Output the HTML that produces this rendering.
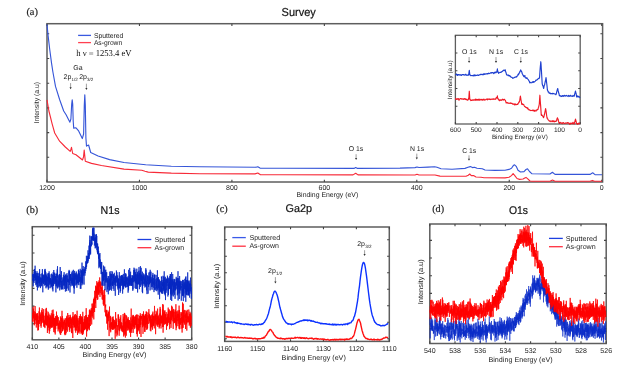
<!DOCTYPE html>
<html><head><meta charset="utf-8"><title>XPS</title>
<style>
html,body{margin:0;padding:0;background:#fff;width:623px;height:366px;overflow:hidden}
svg{display:block;will-change:transform}
text{-webkit-font-smoothing:antialiased;text-rendering:geometricPrecision}
.t{will-change:transform}
</style></head><body>
<svg width="623" height="366" viewBox="0 0 623 366">
<rect width="623" height="366" fill="#fff"/>
<text x="26.40" y="14.80" font-size="10.4" font-family='"Liberation Serif",serif' fill="#222" stroke="#222" stroke-width="0.2">(a)</text>
<text x="281.60" y="16.00" font-size="11.5" font-family='"Liberation Sans",sans-serif' fill="#111" textLength="34.2" lengthAdjust="spacingAndGlyphs" stroke="#111" stroke-width="0.2">Survey</text>
<rect x="47.00" y="23.70" width="555.60" height="158.30" fill="none" stroke="#5e5e5e" stroke-width="1.5"/>
<path d="M47.00,182.00v-2.2M47.00,23.70v2.2M139.45,182.00v-2.2M139.45,23.70v2.2M231.90,182.00v-2.2M231.90,23.70v2.2M324.35,182.00v-2.2M324.35,23.70v2.2M416.80,182.00v-2.2M416.80,23.70v2.2M509.25,182.00v-2.2M509.25,23.70v2.2M601.70,182.00v-2.2M601.70,23.70v2.2M47.00,33.80h2.2M602.60,33.80h-2.2M47.00,58.50h2.2M602.60,58.50h-2.2M47.00,83.20h2.2M602.60,83.20h-2.2M47.00,107.90h2.2M602.60,107.90h-2.2M47.00,132.60h2.2M602.60,132.60h-2.2M47.00,157.30h2.2M602.60,157.30h-2.2" stroke="#444" stroke-width="1.1" fill="none"/>
<polyline points="47.00,99.80 48.90,111.00 50.30,116.50 52.20,124.10 54.70,133.00 59.60,141.20 65.30,147.00 70.20,151.30 70.90,149.50 71.50,147.30 72.10,150.50 72.70,153.50 76.00,154.70 82.50,160.00 83.50,157.00 84.20,150.00 84.80,156.00 85.30,161.20 91.50,163.40 101.40,165.50 124.00,169.10 141.80,170.20 145.00,171.20 148.20,172.10 171.30,173.10 200.00,173.70 255.00,173.90 257.80,173.00 260.50,174.70 280.00,174.80 353.00,174.90 355.70,173.20 358.00,174.90 415.00,175.00 417.00,174.20 419.00,175.00 435.00,175.00 440.00,176.10 448.00,176.30 466.00,176.30 468.30,175.20 469.70,174.00 471.30,175.60 473.50,175.60 476.00,177.00 481.00,177.30 484.00,177.70 505.00,177.90 509.00,177.20 511.50,175.60 513.10,173.50 515.00,175.80 517.00,178.50 519.50,179.40 523.00,179.00 524.80,178.00 526.00,177.40 527.50,178.60 530.00,181.00 532.00,181.20 550.00,181.30 552.50,180.10 555.00,181.30 590.00,181.30 592.40,180.40 594.50,181.30 602.00,181.30" fill="none" stroke="#f72a38" stroke-width="1.12" stroke-linejoin="round"/>
<polyline points="47.00,24.50 48.10,35.60 49.70,49.30 51.50,62.90 52.90,72.00 55.50,86.40 59.60,99.50 63.70,111.00 66.10,114.80 68.50,119.50 69.90,122.20 70.90,119.00 71.70,104.00 72.20,99.80 72.70,104.00 73.20,121.00 73.70,128.10 76.00,127.80 78.40,130.60 82.30,138.60 83.60,134.00 84.30,105.00 84.80,94.80 85.30,105.00 85.90,138.00 86.50,146.10 88.60,145.00 90.70,152.50 98.10,156.00 109.60,159.60 124.00,162.50 145.70,164.80 171.30,166.30 200.00,166.70 256.00,167.20 257.80,166.80 260.00,168.10 280.00,168.20 354.00,168.40 355.70,167.50 357.50,168.40 400.00,168.10 415.00,167.60 417.00,167.00 419.00,167.50 428.00,167.10 434.70,166.70 437.00,167.30 441.00,168.70 452.00,169.30 465.00,168.40 468.00,167.30 470.30,166.60 472.50,167.60 474.50,167.20 477.00,168.30 482.30,168.70 485.00,170.00 495.00,170.40 505.00,170.20 509.00,169.40 511.50,168.30 513.30,165.60 514.60,164.80 516.20,166.30 518.00,170.30 520.50,172.00 524.00,171.60 526.00,169.50 527.50,168.80 529.50,171.50 532.00,173.80 550.00,174.00 552.40,172.30 555.00,174.40 590.00,174.40 592.70,172.80 595.00,174.60 602.00,174.80" fill="none" stroke="#3555d8" stroke-width="1.12" stroke-linejoin="round"/>
<text x="47.00" y="190.00" font-size="7" font-family='"Liberation Sans",sans-serif' fill="#222" text-anchor="middle">1200</text>
<text x="139.45" y="190.00" font-size="7" font-family='"Liberation Sans",sans-serif' fill="#222" text-anchor="middle">1000</text>
<text x="231.90" y="190.00" font-size="7" font-family='"Liberation Sans",sans-serif' fill="#222" text-anchor="middle">800</text>
<text x="324.35" y="190.00" font-size="7" font-family='"Liberation Sans",sans-serif' fill="#222" text-anchor="middle">600</text>
<text x="416.80" y="190.00" font-size="7" font-family='"Liberation Sans",sans-serif' fill="#222" text-anchor="middle">400</text>
<text x="509.25" y="190.00" font-size="7" font-family='"Liberation Sans",sans-serif' fill="#222" text-anchor="middle">200</text>
<text x="601.70" y="190.00" font-size="7" font-family='"Liberation Sans",sans-serif' fill="#222" text-anchor="middle">0</text>
<text x="296.50" y="197.00" font-size="7" font-family='"Liberation Sans",sans-serif' fill="#222" textLength="61.7" lengthAdjust="spacingAndGlyphs">Binding Energy (eV)</text>
<text x="0.00" y="0.00" font-size="7" font-family='"Liberation Sans",sans-serif' fill="#222" text-anchor="middle" textLength="41.6" lengthAdjust="spacingAndGlyphs" transform="translate(38.9,102.7) rotate(-90)">Intensity (a.u)</text>
<path d="M78.1,35.4H91" stroke="#3a5ae0" stroke-width="1.3"/>
<path d="M78.1,42.6H91" stroke="#ff4050" stroke-width="1.3"/>
<text x="93.90" y="37.60" font-size="7" font-family='"Liberation Sans",sans-serif' fill="#222" textLength="29.5" lengthAdjust="spacingAndGlyphs">Sputtered</text>
<text x="93.90" y="45.20" font-size="7" font-family='"Liberation Sans",sans-serif' fill="#222" textLength="28.3" lengthAdjust="spacingAndGlyphs">As-grown</text>
<text x="76.20" y="56.30" font-size="9" font-family='"Liberation Serif",serif' fill="#111" textLength="55.4" lengthAdjust="spacingAndGlyphs">h ν = 1253.4 eV</text>
<text x="73.20" y="70.40" font-size="7" font-family='"Liberation Sans",sans-serif' fill="#222">Ga</text>
<text x="63.60" y="79.00" font-size="7" font-family='"Liberation Sans",sans-serif' fill="#222">2p</text>
<text x="71.50" y="81.00" font-size="4.5" font-family='"Liberation Sans",sans-serif' fill="#222">1/2</text>
<text x="79.20" y="79.00" font-size="7" font-family='"Liberation Sans",sans-serif' fill="#222">2p</text>
<text x="87.10" y="81.00" font-size="4.5" font-family='"Liberation Sans",sans-serif' fill="#222">3/2</text>
<path d="M70.60,83.10V88.10" stroke="#777" stroke-width="0.7"/><path d="M69.50,87.30L71.70,87.30L70.60,89.30Z" fill="#333"/>
<path d="M86.40,83.70V88.70" stroke="#777" stroke-width="0.7"/><path d="M85.30,87.90L87.50,87.90L86.40,89.90Z" fill="#333"/>
<text x="348.80" y="150.90" font-size="7" font-family='"Liberation Sans",sans-serif' fill="#222" textLength="14.5" lengthAdjust="spacingAndGlyphs">O 1s</text>
<path d="M356.10,154.20V158.80" stroke="#777" stroke-width="0.7"/><path d="M355.00,158.00L357.20,158.00L356.10,160.00Z" fill="#333"/>
<text x="409.90" y="150.60" font-size="7" font-family='"Liberation Sans",sans-serif' fill="#222" textLength="14.2" lengthAdjust="spacingAndGlyphs">N 1s</text>
<path d="M416.80,153.60V158.20" stroke="#777" stroke-width="0.7"/><path d="M415.70,157.40L417.90,157.40L416.80,159.40Z" fill="#333"/>
<text x="462.20" y="152.60" font-size="7" font-family='"Liberation Sans",sans-serif' fill="#222" textLength="14.0" lengthAdjust="spacingAndGlyphs">C 1s</text>
<path d="M469.00,155.30V159.50" stroke="#777" stroke-width="0.7"/><path d="M467.90,158.70L470.10,158.70L469.00,160.70Z" fill="#333"/>
<rect x="455.40" y="35.30" width="124.80" height="88.70" fill="none" stroke="#5e5e5e" stroke-width="1.3"/>
<path d="M455.40,124.00v-2.0M455.40,35.30v2.0M476.20,124.00v-2.0M476.20,35.30v2.0M497.00,124.00v-2.0M497.00,35.30v2.0M517.80,124.00v-2.0M517.80,35.30v2.0M538.60,124.00v-2.0M538.60,35.30v2.0M559.40,124.00v-2.0M559.40,35.30v2.0M580.20,124.00v-2.0M580.20,35.30v2.0M455.40,53.04h2.0M580.20,53.04h-2.0M455.40,70.78h2.0M580.20,70.78h-2.0M455.40,88.52h2.0M580.20,88.52h-2.0M455.40,106.26h2.0M580.20,106.26h-2.0" stroke="#444" stroke-width="1.1" fill="none"/>
<polyline points="455.40,99.40 455.80,98.47 456.20,99.48 456.60,99.10 457.00,99.10 457.40,99.15 457.80,98.48 458.20,99.08 458.60,98.82 459.00,100.25 459.40,99.13 459.80,98.89 460.00,99.00 460.20,98.75 460.60,98.59 461.00,98.80 461.40,99.08 461.80,98.81 462.20,99.20 462.60,98.77 463.00,98.82 463.40,99.33 463.80,98.96 464.20,98.57 464.60,98.65 464.90,98.70 465.00,99.43 465.40,98.86 465.80,99.06 466.20,99.70 466.60,99.24 467.00,99.65 467.40,100.26 467.70,100.10 467.80,100.03 468.20,99.83 468.60,98.21 468.80,99.00 469.00,95.54 469.30,91.20 469.40,92.86 469.80,99.25 469.80,99.00 470.20,99.36 470.40,100.10 470.60,100.08 471.00,100.58 471.40,100.33 471.80,100.13 472.20,100.44 472.60,99.97 473.00,99.70 473.40,100.22 473.80,100.21 474.20,99.92 474.60,99.71 475.00,100.05 475.40,99.09 475.80,100.19 476.20,100.11 476.60,99.36 477.00,99.94 477.40,99.57 477.80,100.16 478.20,99.17 478.60,99.55 479.00,100.11 479.40,100.26 479.80,99.09 480.20,99.66 480.60,99.93 481.00,99.60 481.30,99.80 481.40,99.38 481.80,99.89 482.20,99.37 482.60,100.20 483.00,99.68 483.40,99.52 483.80,99.03 484.20,100.19 484.60,99.84 485.00,99.81 485.40,99.92 485.80,99.61 486.20,99.24 486.60,99.15 487.00,99.13 487.40,99.86 487.80,98.84 488.20,99.12 488.60,99.18 489.00,99.35 489.40,99.44 489.80,98.78 490.00,99.20 490.20,99.19 490.60,99.60 491.00,99.42 491.40,99.22 491.80,99.02 492.20,99.21 492.60,99.01 493.00,99.37 493.40,98.79 493.80,99.09 494.20,98.99 494.60,99.21 495.00,99.08 495.00,99.00 495.40,99.31 495.80,99.10 496.20,97.65 496.60,98.04 496.90,98.00 497.00,97.93 497.40,95.90 497.40,96.70 497.80,98.61 498.00,99.00 498.20,98.88 498.60,99.38 499.00,100.12 499.00,100.10 499.40,100.77 499.80,99.93 500.20,100.22 500.60,99.95 501.00,100.46 501.40,100.05 501.80,100.22 502.20,99.32 502.60,99.57 503.00,99.31 503.40,100.07 503.80,99.72 504.20,99.33 504.50,99.40 504.60,99.73 505.00,99.96 505.40,100.53 505.80,101.67 506.20,103.01 506.60,102.71 506.60,102.80 507.00,102.45 507.40,102.45 507.80,103.16 508.20,103.33 508.60,103.09 509.00,103.27 509.40,103.25 509.80,103.32 510.20,102.79 510.60,103.22 511.00,103.48 511.40,103.23 511.40,103.50 511.80,103.31 512.20,103.58 512.60,104.09 513.00,103.75 513.40,103.93 513.80,104.37 514.20,104.41 514.60,104.87 515.00,103.65 515.40,104.78 515.50,104.50 515.80,104.46 516.20,104.60 516.60,104.57 517.00,104.44 517.40,104.02 517.80,104.42 518.00,103.80 518.20,103.38 518.60,102.96 519.00,101.74 519.40,101.94 519.50,101.00 519.80,100.13 520.20,97.18 520.40,96.10 520.60,97.38 521.00,100.03 521.20,101.00 521.40,102.25 521.70,103.80 521.80,104.41 522.20,103.80 522.60,104.58 523.00,104.17 523.00,104.40 523.40,104.57 523.80,104.82 524.20,105.70 524.60,106.42 525.00,106.54 525.40,107.11 525.50,107.00 525.80,107.31 526.20,107.58 526.60,107.71 527.00,107.53 527.40,108.65 527.80,108.06 528.20,109.20 528.60,109.26 529.00,109.95 529.40,109.82 529.80,109.85 530.20,110.55 530.30,110.50 530.60,110.46 531.00,110.56 531.40,110.53 531.80,110.54 532.20,110.34 532.60,110.60 533.00,109.94 533.40,110.66 533.80,110.33 534.20,111.17 534.60,111.25 535.00,110.15 535.40,110.91 535.80,110.84 536.00,110.90 536.20,110.95 536.60,110.32 537.00,109.58 537.40,109.83 537.80,109.59 538.00,109.50 538.20,108.22 538.60,107.18 539.00,105.53 539.30,104.00 539.40,102.30 539.80,96.64 539.90,95.20 540.20,100.21 540.50,104.00 540.60,105.12 541.00,111.08 541.20,114.30 541.40,115.34 541.80,114.93 542.20,115.50 542.60,116.10 543.00,116.37 543.40,117.65 543.70,117.20 543.80,117.06 544.20,115.26 544.60,113.82 545.00,111.59 545.00,112.00 545.40,109.69 545.60,108.60 545.80,109.53 546.20,112.12 546.30,113.00 546.60,115.26 547.00,117.73 547.10,118.10 547.40,118.73 547.80,118.99 548.20,119.78 548.60,120.20 549.00,120.46 549.40,121.25 549.40,121.00 549.80,121.11 550.20,120.92 550.60,121.32 551.00,121.76 551.40,121.05 551.80,121.11 552.20,121.12 552.60,121.62 553.00,120.57 553.40,121.37 553.80,121.68 554.20,121.00 554.60,121.83 555.00,121.52 555.40,121.17 555.80,121.45 556.10,121.40 556.20,120.94 556.60,120.71 557.00,118.69 557.00,119.00 557.40,118.01 557.50,117.80 557.80,118.76 558.20,119.22 558.20,120.00 558.60,121.52 559.00,122.50 559.00,122.90 559.40,123.04 559.80,122.70 560.20,122.35 560.60,122.72 561.00,123.28 561.40,122.83 561.80,123.34 562.20,123.56 562.60,123.05 563.00,122.66 563.40,122.62 563.80,123.08 564.20,123.41 564.60,123.21 565.00,123.33 565.40,123.00 565.80,123.27 566.20,123.02 566.60,123.08 567.00,122.76 567.40,122.68 567.80,123.08 568.20,122.87 568.60,122.94 569.00,123.53 569.40,123.27 569.80,124.34 570.20,123.66 570.60,123.13 571.00,123.64 571.40,123.51 571.80,123.16 572.20,123.80 572.60,123.16 573.00,122.38 573.40,123.74 573.80,123.26 574.20,124.02 574.30,123.50 574.60,122.02 575.00,121.54 575.00,121.00 575.40,119.55 575.50,119.10 575.80,120.28 576.00,121.00 576.20,121.87 576.60,123.79 576.60,123.50 577.00,123.71 577.40,123.70 577.80,124.32 578.20,123.38 578.60,123.18 579.00,123.76 579.40,123.36 579.80,123.60 580.00,123.50" fill="none" stroke="#f01a25" stroke-width="1.15" stroke-linejoin="round"/>
<polyline points="455.40,74.80 455.80,74.59 456.20,74.80 456.60,73.96 457.00,74.56 457.40,75.42 457.80,74.67 458.20,74.68 458.60,74.51 459.00,75.16 459.40,75.04 459.80,74.58 460.00,75.00 460.20,75.07 460.60,75.20 461.00,74.68 461.40,75.47 461.80,74.96 462.20,74.74 462.60,74.56 463.00,74.61 463.40,74.96 463.80,74.53 464.00,74.60 464.20,74.84 464.60,75.17 465.00,75.05 465.40,74.80 465.80,74.22 466.20,75.06 466.60,75.30 467.00,75.14 467.40,75.35 467.70,75.20 467.80,75.00 468.20,74.52 468.60,75.05 468.70,74.50 469.00,72.23 469.30,70.30 469.40,71.03 469.80,74.72 469.90,75.00 470.20,74.78 470.60,75.58 471.00,75.62 471.40,75.51 471.80,75.48 472.20,75.65 472.60,75.48 473.00,75.61 473.40,75.11 473.80,75.95 474.20,75.55 474.50,75.50 474.60,74.77 475.00,75.68 475.40,75.73 475.80,75.21 476.20,75.44 476.60,75.49 477.00,75.38 477.40,74.94 477.80,75.03 478.20,75.39 478.60,75.43 479.00,74.96 479.40,74.90 479.80,74.90 480.00,74.80 480.20,74.41 480.60,74.27 481.00,74.74 481.40,74.27 481.80,74.41 482.20,74.61 482.60,74.71 483.00,74.12 483.40,74.74 483.80,73.80 484.00,74.40 484.20,73.80 484.60,73.82 485.00,74.40 485.40,73.94 485.80,73.72 486.20,73.75 486.60,73.98 487.00,73.71 487.40,73.62 487.80,73.91 488.00,73.50 488.20,73.29 488.60,73.18 489.00,73.68 489.40,73.52 489.80,73.53 490.20,72.98 490.60,72.84 491.00,73.10 491.40,72.57 491.80,72.91 492.20,72.78 492.30,72.50 492.60,72.50 493.00,72.54 493.40,73.23 493.80,73.57 494.20,72.68 494.60,72.76 495.00,72.00 495.00,72.80 495.40,72.62 495.80,72.07 496.20,72.54 496.60,71.54 496.80,72.00 497.00,71.15 497.40,68.86 497.40,69.30 497.80,71.50 498.10,72.50 498.20,72.15 498.60,73.41 498.60,73.20 499.00,72.58 499.40,72.70 499.80,72.56 500.20,72.35 500.60,72.49 501.00,72.13 501.00,72.00 501.40,72.17 501.80,71.62 502.20,71.45 502.60,71.23 503.00,70.70 503.20,70.30 503.40,70.55 503.80,70.18 504.20,70.62 504.60,69.98 505.00,70.03 505.20,69.80 505.40,71.10 505.80,72.00 506.20,73.28 506.60,74.91 506.60,74.80 507.00,74.94 507.40,74.96 507.80,75.14 508.20,75.79 508.60,75.06 508.60,75.20 509.00,75.42 509.40,76.02 509.80,75.66 510.20,76.13 510.60,76.65 511.00,77.15 511.40,77.23 511.80,77.37 512.20,77.53 512.60,78.31 512.70,78.20 513.00,78.20 513.40,77.99 513.80,77.93 514.20,77.28 514.60,77.35 515.00,77.21 515.40,77.25 515.80,76.98 516.20,76.41 516.60,77.07 516.80,76.60 517.00,76.24 517.40,75.92 517.80,75.33 517.90,75.10 518.20,74.09 518.60,74.52 519.00,73.14 519.40,73.10 519.80,72.03 519.80,72.00 520.20,71.02 520.60,70.45 520.70,69.90 521.00,70.48 521.40,71.40 521.80,71.92 522.00,73.00 522.20,73.58 522.60,74.12 523.00,75.28 523.40,75.29 523.60,76.00 523.80,76.72 524.20,76.69 524.60,75.79 525.00,75.63 525.00,76.80 525.40,77.72 525.80,77.73 526.10,78.30 526.20,78.46 526.60,77.71 527.00,77.87 527.00,77.80 527.40,78.56 527.80,79.13 528.20,79.37 528.60,80.36 529.00,80.62 529.40,81.82 529.80,82.86 530.20,82.29 530.30,82.70 530.60,82.48 531.00,82.67 531.40,82.81 531.80,82.72 532.20,81.98 532.60,81.88 533.00,82.50 533.40,81.58 533.80,82.25 534.10,81.80 534.20,81.99 534.60,81.68 535.00,81.40 535.40,81.12 535.80,80.19 536.20,80.34 536.60,79.95 537.00,79.75 537.40,79.78 537.80,78.95 538.00,78.90 538.20,78.53 538.60,78.43 539.00,78.56 539.40,77.77 539.50,78.00 539.80,73.82 540.20,67.92 540.20,68.00 540.60,63.89 540.80,61.70 541.00,63.85 541.40,70.42 541.40,70.00 541.80,76.97 542.20,83.87 542.20,83.70 542.60,85.41 543.00,85.95 543.40,87.53 543.70,88.50 543.80,88.01 544.20,85.51 544.60,84.86 545.00,82.64 545.20,82.00 545.40,80.85 545.80,79.00 546.00,77.60 546.20,78.92 546.60,82.59 546.80,84.00 547.00,85.72 547.40,89.97 547.50,90.40 547.80,90.67 548.20,92.00 548.60,91.79 549.00,93.04 549.40,93.13 549.40,93.30 549.80,92.92 550.20,93.11 550.60,93.83 551.00,93.58 551.40,93.58 551.80,93.47 552.20,93.83 552.60,93.24 553.00,93.39 553.40,93.78 553.80,93.60 554.20,93.70 554.60,93.97 555.00,94.00 555.40,94.03 555.80,94.74 556.10,94.20 556.20,94.27 556.60,92.41 557.00,90.82 557.00,91.00 557.40,89.45 557.70,88.50 557.80,88.73 558.20,90.95 558.50,92.00 558.60,92.74 559.00,93.70 559.40,95.77 559.40,95.60 559.80,95.90 560.20,95.59 560.60,95.94 561.00,96.55 561.40,95.99 561.80,96.50 562.20,95.76 562.60,95.59 563.00,96.19 563.40,96.34 563.80,95.55 564.20,95.79 564.60,95.27 565.00,95.72 565.40,96.11 565.80,95.78 566.20,95.63 566.60,95.35 567.00,95.98 567.40,96.15 567.80,96.09 568.20,95.98 568.60,95.46 569.00,96.54 569.40,95.92 569.80,95.90 570.20,96.22 570.60,95.22 571.00,95.97 571.40,95.95 571.80,96.15 572.20,96.50 572.60,96.21 573.00,95.42 573.40,95.95 573.80,96.16 574.20,96.15 574.30,96.10 574.60,94.19 575.00,93.19 575.00,93.00 575.40,91.39 575.50,91.00 575.80,92.82 576.00,93.00 576.20,93.91 576.60,96.83 576.60,96.10 577.00,96.32 577.40,95.97 577.80,97.00 578.20,96.21 578.60,96.89 579.00,96.99 579.40,96.72 579.80,97.54 580.00,97.30" fill="none" stroke="#1f40d0" stroke-width="1.15" stroke-linejoin="round"/>
<text x="455.40" y="132.40" font-size="6.6" font-family='"Liberation Sans",sans-serif' fill="#222" text-anchor="middle">600</text>
<text x="476.20" y="132.40" font-size="6.6" font-family='"Liberation Sans",sans-serif' fill="#222" text-anchor="middle">500</text>
<text x="497.00" y="132.40" font-size="6.6" font-family='"Liberation Sans",sans-serif' fill="#222" text-anchor="middle">400</text>
<text x="517.80" y="132.40" font-size="6.6" font-family='"Liberation Sans",sans-serif' fill="#222" text-anchor="middle">300</text>
<text x="538.60" y="132.40" font-size="6.6" font-family='"Liberation Sans",sans-serif' fill="#222" text-anchor="middle">200</text>
<text x="559.40" y="132.40" font-size="6.6" font-family='"Liberation Sans",sans-serif' fill="#222" text-anchor="middle">100</text>
<text x="580.20" y="132.40" font-size="6.6" font-family='"Liberation Sans",sans-serif' fill="#222" text-anchor="middle">0</text>
<text x="491.90" y="138.60" font-size="6.3" font-family='"Liberation Sans",sans-serif' fill="#222" textLength="55.9" lengthAdjust="spacingAndGlyphs">Binding Energy (eV)</text>
<text x="0.00" y="0.00" font-size="6.3" font-family='"Liberation Sans",sans-serif' fill="#222" text-anchor="middle" textLength="38.8" lengthAdjust="spacingAndGlyphs" transform="translate(451.9,79.8) rotate(-90)">Intensity (a.u)</text>
<text x="462.10" y="53.60" font-size="6.9" font-family='"Liberation Sans",sans-serif' fill="#222" textLength="14.5" lengthAdjust="spacingAndGlyphs">O 1s</text>
<path d="M469.10,57.00V61.80" stroke="#777" stroke-width="0.7"/><path d="M468.00,61.00L470.20,61.00L469.10,63.00Z" fill="#333"/>
<text x="488.90" y="53.60" font-size="6.9" font-family='"Liberation Sans",sans-serif' fill="#222" textLength="14.2" lengthAdjust="spacingAndGlyphs">N 1s</text>
<path d="M496.00,57.00V61.80" stroke="#777" stroke-width="0.7"/><path d="M494.90,61.00L497.10,61.00L496.00,63.00Z" fill="#333"/>
<text x="513.90" y="53.60" font-size="6.9" font-family='"Liberation Sans",sans-serif' fill="#222" textLength="14.0" lengthAdjust="spacingAndGlyphs">C 1s</text>
<path d="M520.80,57.00V61.80" stroke="#777" stroke-width="0.7"/><path d="M519.70,61.00L521.90,61.00L520.80,63.00Z" fill="#333"/>
<text x="26.30" y="212.60" font-size="10.2" font-family='"Liberation Serif",serif' fill="#222" stroke="#222" stroke-width="0.2">(b)</text>
<text x="100.60" y="214.10" font-size="11.2" font-family='"Liberation Sans",sans-serif' fill="#111" textLength="18.9" lengthAdjust="spacingAndGlyphs" stroke="#111" stroke-width="0.2">N1s</text>
<rect x="32.30" y="226.70" width="159.40" height="113.10" fill="none" stroke="#5e5e5e" stroke-width="1.5"/>
<path d="M32.30,339.80v-2.2M32.30,226.70v2.2M58.87,339.80v-2.2M58.87,226.70v2.2M85.43,339.80v-2.2M85.43,226.70v2.2M112.00,339.80v-2.2M112.00,226.70v2.2M138.57,339.80v-2.2M138.57,226.70v2.2M165.13,339.80v-2.2M165.13,226.70v2.2M191.70,339.80v-2.2M191.70,226.70v2.2M32.30,235.30h2.2M191.70,235.30h-2.2M32.30,253.00h2.2M191.70,253.00h-2.2M32.30,270.70h2.2M191.70,270.70h-2.2M32.30,288.40h2.2M191.70,288.40h-2.2M32.30,306.10h2.2M191.70,306.10h-2.2M32.30,323.80h2.2M191.70,323.80h-2.2" stroke="#444" stroke-width="1.1" fill="none"/>
<polyline points="32.5,315.6 32.6,321.7 32.7,319.9 32.8,312.9 32.9,318.1 33.0,316.8 33.1,306.8 33.2,316.8 33.3,316.2 33.4,315.4 33.5,308.7 33.6,315.9 33.7,317.7 33.8,318.5 33.9,311.6 34.0,321.5 34.1,311.2 34.2,316.7 34.3,325.3 34.4,314.2 34.5,315.2 34.6,324.0 34.7,316.0 34.8,316.5 34.9,319.4 35.0,324.0 35.1,306.0 35.2,313.6 35.3,312.6 35.4,312.2 35.5,313.5 35.6,313.6 35.7,320.0 35.8,313.4 35.9,319.0 36.0,320.6 36.1,314.4 36.2,319.2 36.3,327.5 36.4,320.3 36.5,315.0 36.6,318.2 36.7,313.5 36.8,320.1 36.9,323.4 37.0,314.1 37.1,317.5 37.2,324.8 37.3,315.9 37.4,319.7 37.5,313.1 37.6,314.2 37.7,315.9 37.8,330.5 37.9,316.6 38.0,316.0 38.1,315.8 38.2,318.0 38.3,322.4 38.4,319.9 38.5,330.1 38.6,320.1 38.7,326.8 38.8,320.5 38.9,322.3 39.0,311.3 39.1,318.4 39.2,318.7 39.3,317.8 39.4,307.5 39.5,323.9 39.6,317.1 39.7,316.8 39.8,317.9 39.9,318.0 40.0,321.5 40.1,312.4 40.2,314.3 40.3,320.9 40.4,320.2 40.5,317.4 40.6,316.3 40.7,314.9 40.8,319.1 40.9,325.9 41.0,313.8 41.1,327.7 41.2,324.1 41.3,317.1 41.4,323.8 41.5,311.7 41.6,310.3 41.7,312.7 41.8,317.5 41.9,317.9 42.0,316.9 42.1,320.3 42.2,308.2 42.3,322.5 42.4,312.1 42.5,316.3 42.6,317.6 42.7,313.6 42.8,312.5 42.9,314.5 43.0,319.9 43.1,323.2 43.2,323.0 43.3,314.6 43.4,315.8 43.5,315.1 43.6,322.5 43.7,309.1 43.8,326.8 43.9,317.5 44.0,315.9 44.1,322.0 44.2,325.8 44.3,322.1 44.4,325.9 44.5,321.0 44.6,326.9 44.7,327.0 44.8,319.8 44.9,328.1 45.0,321.3 45.1,320.9 45.2,315.5 45.3,318.9 45.4,324.7 45.5,313.4 45.6,324.0 45.7,322.4 45.8,322.1 45.9,308.7 46.0,320.1 46.1,324.1 46.2,316.5 46.3,321.2 46.4,307.9 46.5,324.3 46.6,317.2 46.7,325.5 46.8,310.8 46.9,324.5 47.0,319.6 47.1,325.2 47.2,315.9 47.3,317.6 47.4,333.0 47.5,316.5 47.6,317.2 47.7,319.5 47.8,315.5 47.9,327.5 48.0,330.4 48.1,317.3 48.2,311.8 48.3,327.5 48.4,327.1 48.5,325.6 48.6,327.4 48.7,316.5 48.8,320.3 48.9,313.8 49.0,313.6 49.1,326.6 49.2,317.7 49.3,333.7 49.4,321.8 49.5,317.9 49.6,325.7 49.7,331.2 49.8,324.1 49.9,314.9 50.0,323.5 50.1,328.9 50.2,318.9 50.3,317.4 50.4,327.1 50.5,322.3 50.6,315.7 50.7,319.6 50.8,317.6 50.9,323.3 51.0,322.3 51.1,327.9 51.2,325.5 51.3,313.3 51.4,323.9 51.5,326.6 51.6,324.2 51.7,327.4 51.8,318.9 51.9,316.7 52.0,326.9 52.1,316.1 52.2,310.2 52.3,327.5 52.4,318.0 52.5,320.3 52.6,314.4 52.7,314.8 52.8,315.8 52.9,320.1 53.0,324.0 53.1,309.6 53.2,326.1 53.3,315.7 53.4,316.4 53.5,325.8 53.6,321.7 53.7,313.9 53.8,332.1 53.9,317.6 54.0,323.6 54.1,323.3 54.2,329.9 54.3,319.8 54.4,327.7 54.5,318.3 54.6,328.4 54.7,318.2 54.8,320.4 54.9,332.6 55.0,324.1 55.1,323.0 55.2,334.5 55.3,324.4 55.4,318.1 55.5,326.5 55.6,316.1 55.7,328.6 55.8,329.1 55.9,319.5 56.0,319.2 56.1,323.6 56.2,322.7 56.3,317.4 56.4,325.7 56.5,311.6 56.6,320.4 56.7,320.5 56.8,321.2 56.9,324.4 57.0,316.1 57.1,326.0 57.2,321.8 57.3,319.3 57.4,315.5 57.5,316.5 57.6,324.8 57.7,317.7 57.8,323.3 57.9,328.7 58.0,328.5 58.1,331.4 58.2,321.4 58.3,317.1 58.4,328.5 58.5,324.7 58.6,329.1 58.7,323.1 58.8,329.5 58.9,327.7 59.0,327.0 59.1,325.9 59.2,325.3 59.3,324.4 59.4,324.4 59.5,328.6 59.6,320.5 59.7,332.6 59.8,322.7 59.9,328.6 60.0,322.8 60.1,322.0 60.2,334.3 60.3,321.6 60.4,316.4 60.5,319.4 60.6,321.6 60.7,334.9 60.8,324.4 60.9,328.4 61.0,317.9 61.1,325.2 61.2,326.9 61.3,333.0 61.4,319.6 61.5,326.6 61.6,324.9 61.7,317.8 61.8,323.2 61.9,321.9 62.0,310.8 62.1,326.6 62.2,326.2 62.3,321.0 62.4,316.1 62.5,331.3 62.6,324.8 62.7,328.8 62.8,330.9 62.9,320.5 63.0,327.7 63.1,322.0 63.2,323.0 63.3,322.9 63.4,323.3 63.5,329.4 63.6,324.0 63.7,322.5 63.8,321.8 63.9,325.2 64.0,318.5 64.1,320.6 64.2,323.1 64.3,320.3 64.4,322.7 64.5,320.0 64.6,334.2 64.7,330.5 64.8,325.8 64.9,323.1 65.0,335.2 65.1,325.1 65.2,322.9 65.3,325.0 65.4,325.0 65.5,331.0 65.6,323.3 65.7,334.7 65.8,318.6 65.9,327.1 66.0,318.0 66.1,333.2 66.2,321.6 66.3,323.0 66.4,328.4 66.5,330.1 66.6,317.4 66.7,321.5 66.8,315.8 66.9,324.1 67.0,322.8 67.1,321.5 67.2,319.7 67.3,321.3 67.4,319.3 67.5,326.2 67.6,331.6 67.7,313.0 67.8,322.8 67.9,321.1 68.0,326.0 68.1,318.2 68.2,322.6 68.3,317.8 68.4,327.1 68.5,323.9 68.6,322.5 68.7,325.4 68.8,322.1 68.9,315.0 69.0,326.6 69.1,324.9 69.2,322.6 69.3,328.7 69.4,330.0 69.5,317.5 69.6,319.2 69.7,331.8 69.8,331.1 69.9,319.4 70.0,317.0 70.1,320.0 70.2,320.7 70.3,314.8 70.4,323.6 70.5,316.5 70.6,316.9 70.7,328.4 70.8,319.7 70.9,323.0 71.0,326.8 71.1,327.8 71.2,321.6 71.3,323.7 71.4,319.0 71.5,332.9 71.6,326.9 71.7,317.5 71.8,323.4 71.9,327.3 72.0,326.0 72.1,333.3 72.2,330.8 72.3,320.5 72.4,322.9 72.5,316.5 72.6,324.8 72.7,324.2 72.8,338.0 72.9,324.0 73.0,312.1 73.1,319.8 73.2,324.0 73.3,316.7 73.4,318.8 73.5,321.5 73.6,325.3 73.7,322.5 73.8,318.6 73.9,327.7 74.0,320.5 74.1,320.7 74.2,316.0 74.3,319.2 74.4,327.0 74.5,314.7 74.6,323.1 74.7,327.3 74.8,321.4 74.9,324.7 75.0,317.4 75.1,330.5 75.2,329.4 75.3,324.7 75.4,314.0 75.5,317.8 75.6,328.7 75.7,332.7 75.8,325.1 75.9,330.2 76.0,320.2 76.1,322.4 76.2,323.5 76.3,325.7 76.4,315.2 76.5,328.5 76.6,330.6 76.7,317.3 76.8,316.1 76.9,325.4 77.0,319.9 77.1,310.7 77.2,327.8 77.3,324.3 77.4,320.9 77.5,334.9 77.6,324.2 77.7,319.4 77.8,324.0 77.9,317.9 78.0,319.4 78.1,325.6 78.2,320.5 78.3,321.0 78.4,332.5 78.5,328.1 78.6,327.8 78.7,326.3 78.8,326.1 78.9,331.4 79.0,323.4 79.1,333.5 79.2,318.4 79.3,322.1 79.4,316.0 79.5,321.6 79.6,326.3 79.7,331.3 79.8,319.9 79.9,323.5 80.0,321.6 80.1,319.5 80.2,317.1 80.3,323.8 80.4,314.2 80.5,324.1 80.6,323.7 80.7,320.0 80.8,318.1 80.9,316.1 81.0,333.7 81.1,316.3 81.2,332.0 81.3,326.8 81.4,321.6 81.5,317.4 81.6,329.3 81.7,333.0 81.8,318.6 81.9,322.0 82.0,329.3 82.1,325.5 82.2,334.5 82.3,320.6 82.4,326.6 82.5,316.9 82.6,335.0 82.7,319.8 82.8,311.8 82.9,323.0 83.0,323.0 83.1,334.1 83.2,321.9 83.3,323.7 83.4,326.9 83.5,332.3 83.6,323.4 83.7,329.3 83.8,326.5 83.9,322.1 84.0,324.1 84.1,323.9 84.2,318.8 84.3,330.3 84.4,316.2 84.5,330.0 84.6,328.8 84.7,323.2 84.8,319.5 84.9,322.4 85.0,326.2 85.1,327.6 85.2,325.2 85.3,329.0 85.4,320.6 85.5,324.8 85.6,315.1 85.7,327.6 85.8,324.3 85.9,321.2 86.0,329.7 86.1,327.1 86.2,308.2 86.3,323.5 86.4,315.4 86.5,329.0 86.6,336.6 86.7,320.4 86.8,323.5 86.9,321.7 87.0,324.9 87.1,326.4 87.2,329.8 87.3,317.5 87.4,331.2 87.5,317.6 87.6,324.1 87.7,328.8 87.8,326.3 87.9,317.3 88.0,318.5 88.1,319.6 88.2,321.8 88.3,328.1 88.4,314.8 88.5,324.2 88.6,324.9 88.7,324.5 88.8,323.8 88.9,329.4 89.0,323.7 89.1,325.5 89.2,323.8 89.3,330.2 89.4,310.1 89.5,327.1 89.6,318.6 89.7,318.3 89.8,314.4 89.9,309.3 90.0,317.2 90.1,315.3 90.2,321.4 90.3,310.6 90.4,326.0 90.5,319.5 90.6,316.4 90.7,313.7 90.8,313.0 90.9,310.8 91.0,313.7 91.1,316.4 91.2,315.1 91.3,308.1 91.4,314.0 91.5,310.3 91.6,315.6 91.7,324.5 91.8,317.4 91.9,312.0 92.0,304.5 92.1,305.3 92.2,303.4 92.3,316.1 92.4,307.6 92.5,311.7 92.6,307.6 92.7,311.0 92.8,317.7 92.9,306.0 93.0,307.4 93.1,304.4 93.2,313.0 93.3,302.3 93.4,301.3 93.5,299.4 93.6,298.9 93.7,308.5 93.8,319.4 93.9,299.7 94.0,309.7 94.1,305.4 94.2,297.6 94.3,301.6 94.4,301.3 94.5,298.3 94.6,312.0 94.7,290.8 94.8,302.6 94.9,301.9 95.0,296.5 95.1,299.9 95.2,303.3 95.3,298.9 95.4,299.9 95.5,300.9 95.6,285.7 95.7,304.2 95.8,308.0 95.9,300.5 96.0,300.3 96.1,286.7 96.2,293.2 96.3,289.1 96.4,289.8 96.5,297.8 96.6,287.8 96.7,291.1 96.8,281.1 96.9,290.1 97.0,291.1 97.1,286.5 97.2,286.0 97.3,299.8 97.4,282.7 97.5,283.3 97.6,284.3 97.7,294.8 97.8,299.4 97.9,289.6 98.0,283.7 98.1,285.1 98.2,292.9 98.3,282.0 98.4,294.6 98.5,294.3 98.6,286.9 98.7,289.9 98.8,290.3 98.9,294.6 99.0,280.4 99.1,292.4 99.2,284.0 99.3,281.8 99.4,286.5 99.5,284.8 99.6,280.7 99.7,277.4 99.8,281.0 99.9,294.1 100.0,296.9 100.1,289.9 100.2,293.0 100.3,283.9 100.4,286.5 100.5,288.6 100.6,281.5 100.7,282.2 100.8,288.3 100.9,286.3 101.0,282.5 101.1,290.6 101.2,287.4 101.3,294.7 101.4,289.4 101.5,288.2 101.6,290.8 101.7,289.6 101.8,287.3 101.9,289.1 102.0,295.7 102.1,295.6 102.2,299.4 102.3,283.8 102.4,291.2 102.5,291.6 102.6,295.2 102.7,292.3 102.8,292.4 102.9,299.9 103.0,297.1 103.1,290.3 103.2,304.3 103.3,303.0 103.4,295.0 103.5,303.1 103.6,295.1 103.7,305.7 103.8,298.9 103.9,296.3 104.0,299.1 104.1,297.5 104.2,303.2 104.3,303.6 104.4,303.3 104.5,300.6 104.6,289.0 104.7,305.2 104.8,294.9 104.9,307.0 105.0,312.3 105.1,308.1 105.2,305.0 105.3,306.6 105.4,307.4 105.5,305.6 105.6,305.9 105.7,304.5 105.8,316.4 105.9,310.3 106.0,316.0 106.1,309.9 106.2,312.1 106.3,311.2 106.4,315.1 106.5,317.4 106.6,314.7 106.7,310.1 106.8,309.9 106.9,323.5 107.0,313.4 107.1,313.7 107.2,323.6 107.3,321.9 107.4,319.2 107.5,314.5 107.6,329.7 107.7,319.4 107.8,320.6 107.9,317.0 108.0,310.6 108.1,311.3 108.2,321.0 108.3,321.2 108.4,318.0 108.5,313.3 108.6,312.0 108.7,318.3 108.8,312.4 108.9,325.4 109.0,327.0 109.1,336.1 109.2,325.9 109.3,318.2 109.4,316.9 109.5,306.6 109.6,318.7 109.7,321.2 109.8,327.5 109.9,325.7 110.0,325.8 110.1,323.9 110.2,326.5 110.3,330.9 110.4,317.4 110.5,320.8 110.6,315.9 110.7,332.3 110.8,330.7 110.9,327.8 111.0,317.4 111.1,324.9 111.2,322.8 111.3,324.6 111.4,323.2 111.5,327.2 111.6,322.3 111.7,329.1 111.8,325.9 111.9,323.1 112.0,324.1 112.1,322.4 112.2,329.3 112.3,323.5 112.4,326.6 112.5,322.9 112.6,317.1 112.7,330.0 112.8,319.5 112.9,328.9 113.0,327.5 113.1,316.4 113.2,320.3 113.3,322.6 113.4,321.0 113.5,319.1 113.6,329.5 113.7,324.2 113.8,327.6 113.9,323.3 114.0,327.3 114.1,321.6 114.2,325.5 114.3,328.8 114.4,326.0 114.5,323.3 114.6,319.9 114.7,326.7 114.8,327.7 114.9,324.4 115.0,321.7 115.1,328.8 115.2,338.8 115.3,324.2 115.4,327.7 115.5,327.9 115.6,312.0 115.7,326.5 115.8,322.0 115.9,333.3 116.0,324.5 116.1,321.6 116.2,324.6 116.3,326.7 116.4,322.8 116.5,325.5 116.6,318.5 116.7,324.6 116.8,330.0 116.9,336.4 117.0,329.6 117.1,327.2 117.2,332.1 117.3,331.2 117.4,334.7 117.5,331.6 117.6,325.1 117.7,327.1 117.8,326.7 117.9,327.3 118.0,326.8 118.1,321.5 118.2,314.3 118.3,322.0 118.4,314.7 118.5,326.0 118.6,325.7 118.7,316.6 118.8,329.3 118.9,330.3 119.0,326.1 119.1,334.6 119.2,335.7 119.3,319.1 119.4,331.2 119.5,327.9 119.6,327.8 119.7,330.6 119.8,321.6 119.9,322.3 120.0,321.0 120.1,321.4 120.2,324.9 120.3,317.6 120.4,319.8 120.5,328.6 120.6,325.1 120.7,327.5 120.8,315.2 120.9,321.2 121.0,322.4 121.1,325.6 121.2,322.2 121.3,330.4 121.4,325.0 121.5,325.4 121.6,325.4 121.7,329.2 121.8,322.8 121.9,331.4 122.0,327.8 122.1,326.1 122.2,325.5 122.3,328.1 122.4,330.7 122.5,330.4 122.6,327.3 122.7,330.0 122.8,325.9 122.9,332.0 123.0,325.1 123.1,314.0 123.2,332.4 123.3,325.8 123.4,318.8 123.5,324.1 123.6,320.4 123.7,336.5 123.8,327.8 123.9,316.6 124.0,328.0 124.1,322.9 124.2,335.4 124.3,319.4 124.4,312.9 124.5,325.4 124.6,323.2 124.7,322.8 124.8,313.5 124.9,327.3 125.0,334.0 125.1,314.7 125.2,331.3 125.3,321.9 125.4,337.6 125.5,327.3 125.6,323.9 125.7,330.8 125.8,327.7 125.9,321.6 126.0,328.6 126.1,322.0 126.2,315.1 126.3,335.7 126.4,322.8 126.5,321.4 126.6,326.5 126.7,316.2 126.8,317.3 126.9,321.9 127.0,321.8 127.1,325.0 127.2,330.6 127.3,322.0 127.4,327.2 127.5,327.7 127.6,318.6 127.7,325.7 127.8,319.3 127.9,330.2 128.0,326.9 128.1,324.5 128.2,317.1 128.3,325.0 128.4,320.2 128.5,328.1 128.6,323.6 128.7,319.9 128.8,329.2 128.9,328.1 129.0,321.0 129.1,330.5 129.2,322.5 129.3,322.5 129.4,324.8 129.5,320.0 129.6,321.7 129.7,323.2 129.8,332.3 129.9,332.1 130.0,322.6 130.1,332.7 130.2,323.7 130.3,326.0 130.4,328.7 130.5,325.5 130.6,336.9 130.7,325.2 130.8,317.4 130.9,330.9 131.0,321.6 131.1,322.1 131.2,308.6 131.3,329.1 131.4,328.1 131.5,328.0 131.6,329.0 131.7,332.8 131.8,323.4 131.9,328.7 132.0,319.6 132.1,321.7 132.2,329.3 132.3,325.7 132.4,316.3 132.5,325.5 132.6,322.5 132.7,319.0 132.8,325.8 132.9,321.2 133.0,314.9 133.1,317.4 133.2,332.9 133.3,315.2 133.4,324.5 133.5,326.6 133.6,326.7 133.7,316.6 133.8,321.5 133.9,324.0 134.0,327.5 134.1,319.7 134.2,316.9 134.3,328.6 134.4,329.1 134.5,325.1 134.6,319.8 134.7,325.3 134.8,323.6 134.9,327.5 135.0,316.3 135.1,323.6 135.2,322.1 135.3,316.9 135.4,324.1 135.5,323.1 135.6,320.7 135.7,325.0 135.8,315.2 135.9,322.5 136.0,325.1 136.1,324.3 136.2,328.6 136.3,316.3 136.4,314.6 136.5,324.0 136.6,325.1 136.7,334.1 136.8,326.0 136.9,317.9 137.0,327.0 137.1,318.0 137.2,314.5 137.3,336.6 137.4,324.3 137.5,326.4 137.6,325.5 137.7,332.2 137.8,324.0 137.9,329.0 138.0,316.9 138.1,314.9 138.2,330.1 138.3,330.3 138.4,325.1 138.5,323.5 138.6,323.2 138.7,318.5 138.8,330.5 138.9,325.8 139.0,324.9 139.1,324.2 139.2,327.8 139.3,324.9 139.4,326.1 139.5,315.8 139.6,324.8 139.7,333.9 139.8,319.2 139.9,321.3 140.0,326.8 140.1,327.2 140.2,325.3 140.3,313.2 140.4,324.7 140.5,315.5 140.6,317.5 140.7,324.9 140.8,320.3 140.9,326.2 141.0,337.0 141.1,326.0 141.2,325.7 141.3,317.0 141.4,318.3 141.5,316.0 141.6,318.9 141.7,315.9 141.8,318.2 141.9,320.6 142.0,316.3 142.1,314.0 142.2,314.3 142.3,324.1 142.4,322.0 142.5,327.2 142.6,327.3 142.7,319.8 142.8,325.2 142.9,313.8 143.0,333.9 143.1,328.0 143.2,320.4 143.3,315.2 143.4,323.6 143.5,311.4 143.6,317.3 143.7,325.5 143.8,321.9 143.9,318.8 144.0,326.6 144.1,315.8 144.2,322.9 144.3,318.7 144.4,316.8 144.5,323.9 144.6,316.0 144.7,331.6 144.8,318.2 144.9,332.0 145.0,315.4 145.1,324.5 145.2,314.8 145.3,314.0 145.4,322.1 145.5,324.9 145.6,314.3 145.7,327.6 145.8,316.9 145.9,321.9 146.0,323.2 146.1,324.3 146.2,311.4 146.3,329.8 146.4,324.1 146.5,318.8 146.6,315.5 146.7,311.9 146.8,313.7 146.9,323.9 147.0,319.2 147.1,314.9 147.2,318.1 147.3,329.4 147.4,319.1 147.5,317.8 147.6,328.2 147.7,323.4 147.8,321.1 147.9,317.6 148.0,312.5 148.1,314.5 148.2,318.2 148.3,319.6 148.4,322.7 148.5,323.8 148.6,322.0 148.7,321.9 148.8,315.3 148.9,309.1 149.0,317.9 149.1,315.5 149.2,317.2 149.3,319.2 149.4,313.9 149.5,314.6 149.6,320.1 149.7,321.2 149.8,317.0 149.9,323.3 150.0,319.4 150.1,315.0 150.2,320.8 150.3,330.7 150.4,316.9 150.5,326.8 150.6,327.9 150.7,328.5 150.8,316.0 150.9,331.3 151.0,321.0 151.1,319.0 151.2,319.1 151.3,323.6 151.4,320.6 151.5,319.4 151.6,327.3 151.7,316.4 151.8,314.7 151.9,324.6 152.0,324.1 152.1,326.2 152.2,314.5 152.3,326.1 152.4,322.8 152.5,329.7 152.6,313.4 152.7,321.3 152.8,318.7 152.9,311.6 153.0,316.3 153.1,326.2 153.2,317.6 153.3,316.2 153.4,324.8 153.5,325.4 153.6,325.4 153.7,315.8 153.8,319.7 153.9,325.6 154.0,316.4 154.1,315.9 154.2,324.4 154.3,328.4 154.4,313.7 154.5,305.9 154.6,312.1 154.7,314.4 154.8,319.1 154.9,323.2 155.0,319.0 155.1,316.0 155.2,320.6 155.3,314.6 155.4,319.5 155.5,316.3 155.6,334.2 155.7,324.1 155.8,315.2 155.9,314.3 156.0,317.3 156.1,310.8 156.2,315.7 156.3,315.7 156.4,324.4 156.5,317.3 156.6,315.3 156.7,312.4 156.8,313.2 156.9,319.2 157.0,318.4 157.1,325.7 157.2,316.1 157.3,325.2 157.4,320.9 157.5,319.5 157.6,308.6 157.7,312.5 157.8,323.4 157.9,327.0 158.0,320.5 158.1,323.5 158.2,317.2 158.3,317.4 158.4,315.8 158.5,324.6 158.6,321.2 158.7,318.0 158.8,317.5 158.9,322.3 159.0,321.0 159.1,314.8 159.2,328.5 159.3,320.6 159.4,319.3 159.5,327.2 159.6,324.7 159.7,318.7 159.8,322.0 159.9,313.4 160.0,315.7 160.1,306.9 160.2,325.7 160.3,308.8 160.4,322.7 160.5,314.6 160.6,313.7 160.7,318.0 160.8,320.4 160.9,322.3 161.0,328.5 161.1,320.9 161.2,323.7 161.3,315.7 161.4,322.8 161.5,319.7 161.6,316.4 161.7,318.4 161.8,318.5 161.9,319.9 162.0,321.0 162.1,316.1 162.2,314.8 162.3,322.8 162.4,309.6 162.5,315.4 162.6,327.1 162.7,304.1 162.8,315.0 162.9,322.4 163.0,309.8 163.1,332.7 163.2,304.7 163.3,326.4 163.4,327.0 163.5,323.6 163.6,317.4 163.7,320.5 163.8,313.7 163.9,322.9 164.0,312.5 164.1,317.1 164.2,323.9 164.3,312.5 164.4,316.5 164.5,319.4 164.6,311.2 164.7,324.7 164.8,320.3 164.9,310.2 165.0,318.1 165.1,314.2 165.2,314.8 165.3,318.8 165.4,314.5 165.5,323.6 165.6,314.6 165.7,323.7 165.8,318.1 165.9,323.0 166.0,315.4 166.1,315.6 166.2,312.1 166.3,321.5 166.4,323.4 166.5,329.8 166.6,325.3 166.7,319.7 166.8,317.2 166.9,320.4 167.0,318.1 167.1,326.2 167.2,323.4 167.3,313.8 167.4,314.6 167.5,325.7 167.6,319.9 167.7,317.0 167.8,324.7 167.9,316.2 168.0,316.7 168.1,315.7 168.2,307.6 168.3,322.9 168.4,311.7 168.5,315.1 168.6,314.2 168.7,322.1 168.8,317.8 168.9,318.3 169.0,309.1 169.1,317.7 169.2,310.2 169.3,319.8 169.4,320.2 169.5,318.1 169.6,329.2 169.7,321.0 169.8,321.4 169.9,318.9 170.0,317.1 170.1,323.4 170.2,324.1 170.3,311.1 170.4,323.8 170.5,320.9 170.6,323.3 170.7,320.6 170.8,311.4 170.9,311.8 171.0,327.9 171.1,319.4 171.2,310.4 171.3,320.0 171.4,316.1 171.5,308.1 171.6,305.7 171.7,309.4 171.8,319.5 171.9,317.8 172.0,316.7 172.1,319.6 172.2,321.3 172.3,306.7 172.4,316.4 172.5,313.5 172.6,311.3 172.7,315.0 172.8,317.3 172.9,316.6 173.0,310.1 173.1,315.4 173.2,328.9 173.3,312.3 173.4,308.9 173.5,319.4 173.6,321.2 173.7,320.5 173.8,311.9 173.9,323.3 174.0,313.7 174.1,311.8 174.2,314.6 174.3,317.3 174.4,321.8 174.5,321.3 174.6,317.8 174.7,322.9 174.8,318.3 174.9,322.7 175.0,310.3 175.1,309.4 175.2,322.1 175.3,310.4 175.4,316.2 175.5,317.3 175.6,315.2 175.7,315.4 175.8,325.4 175.9,304.2 176.0,322.6 176.1,330.2 176.2,317.9 176.3,317.7 176.4,321.7 176.5,327.7 176.6,311.4 176.7,318.3 176.8,316.8 176.9,320.8 177.0,318.6 177.1,321.3 177.2,315.5 177.3,318.0 177.4,314.1 177.5,314.2 177.6,317.0 177.7,317.0 177.8,311.4 177.9,326.2 178.0,317.0 178.1,310.2 178.2,323.7 178.3,313.7 178.4,320.4 178.5,317.6 178.6,319.0 178.7,318.6 178.8,314.6 178.9,317.9 179.0,328.7 179.1,305.6 179.2,318.0 179.3,320.0 179.4,312.0 179.5,310.2 179.6,329.3 179.7,315.6 179.8,328.9 179.9,320.5 180.0,318.0 180.1,320.2 180.2,321.0 180.3,324.0 180.4,320.0 180.5,318.4 180.6,318.5 180.7,324.9 180.8,322.0 180.9,312.2 181.0,314.1 181.1,319.4 181.2,314.2 181.3,315.5 181.4,312.4 181.5,316.1 181.6,319.8 181.7,322.9 181.8,317.6 181.9,328.7 182.0,317.1 182.1,332.6 182.2,322.9 182.3,320.2 182.4,314.8 182.5,302.4 182.6,316.6 182.7,318.4 182.8,327.9 182.9,310.0 183.0,327.8 183.1,316.1 183.2,321.4 183.3,303.7 183.4,318.2 183.5,315.6 183.6,321.1 183.7,317.9 183.8,311.3 183.9,322.5 184.0,321.2 184.1,320.6 184.2,322.9 184.3,323.3 184.4,317.3 184.5,310.1 184.6,309.9 184.7,324.7 184.8,321.2 184.9,317.9 185.0,315.0 185.1,317.5 185.2,317.5 185.3,315.5 185.4,313.6 185.5,329.0 185.6,318.6 185.7,314.1 185.8,310.3 185.9,313.4 186.0,321.2 186.1,321.4 186.2,316.1 186.3,317.6 186.4,315.6 186.5,311.3 186.6,324.3 186.7,319.3 186.8,330.6 186.9,313.2 187.0,316.5 187.1,322.0 187.2,315.9 187.3,309.8 187.4,312.1 187.5,317.8 187.6,319.1 187.7,316.7 187.8,322.6 187.9,322.6 188.0,319.0 188.1,317.3 188.2,315.8 188.3,320.2 188.4,322.2 188.5,317.5 188.6,319.6 188.7,315.4 188.8,309.5 188.9,311.8 189.0,321.3 189.1,319.6 189.2,325.7 189.3,317.4 189.4,321.8 189.5,324.3 189.6,322.5 189.7,313.8 189.8,316.1 189.9,317.8 190.0,311.8 190.1,319.7 190.2,322.6 190.3,314.5 190.4,327.7 190.5,315.5 190.6,316.0 190.7,315.8 190.8,313.2 190.9,319.3 191.0,317.2 191.1,326.0 191.2,320.3 191.3,319.9 191.4,315.8" fill="none" stroke="#ff0000" stroke-width="0.75"/>
<polyline points="32.5,279.1 32.6,280.7 32.7,277.6 32.8,274.3 32.9,276.6 33.0,273.8 33.1,279.4 33.2,286.4 33.3,276.5 33.4,275.8 33.5,281.8 33.6,281.1 33.7,279.8 33.8,274.2 33.9,279.0 34.0,283.0 34.1,272.0 34.2,276.8 34.3,269.0 34.4,272.3 34.5,269.3 34.6,278.0 34.7,272.4 34.8,280.8 34.9,280.2 35.0,278.3 35.1,265.7 35.2,276.4 35.3,279.1 35.4,280.0 35.5,271.1 35.6,276.8 35.7,274.1 35.8,275.0 35.9,285.2 36.0,275.1 36.1,279.3 36.2,284.2 36.3,276.3 36.4,278.9 36.5,280.1 36.6,279.8 36.7,272.9 36.8,279.9 36.9,286.9 37.0,271.2 37.1,284.2 37.2,280.2 37.3,276.1 37.4,290.4 37.5,283.7 37.6,273.1 37.7,280.0 37.8,282.7 37.9,278.6 38.0,283.3 38.1,279.3 38.2,283.3 38.3,287.5 38.4,276.0 38.5,280.8 38.6,277.2 38.7,280.4 38.8,273.3 38.9,276.6 39.0,278.7 39.1,284.6 39.2,286.0 39.3,272.6 39.4,275.5 39.5,283.3 39.6,269.1 39.7,277.3 39.8,279.3 39.9,286.6 40.0,283.6 40.1,278.1 40.2,277.9 40.3,278.6 40.4,288.1 40.5,277.6 40.6,278.3 40.7,281.8 40.8,279.3 40.9,278.9 41.0,274.0 41.1,279.9 41.2,277.6 41.3,286.3 41.4,283.5 41.5,279.9 41.6,283.7 41.7,278.2 41.8,285.7 41.9,280.0 42.0,283.2 42.1,273.1 42.2,282.0 42.3,271.0 42.4,269.1 42.5,278.5 42.6,275.3 42.7,281.0 42.8,292.3 42.9,275.7 43.0,276.8 43.1,281.3 43.2,282.9 43.3,279.3 43.4,279.1 43.5,284.0 43.6,283.1 43.7,274.7 43.8,279.9 43.9,280.5 44.0,274.6 44.1,281.7 44.2,275.7 44.3,285.6 44.4,281.4 44.5,280.8 44.6,277.2 44.7,279.7 44.8,269.6 44.9,274.3 45.0,282.4 45.1,268.9 45.2,285.0 45.3,271.0 45.4,284.5 45.5,275.9 45.6,284.7 45.7,281.2 45.8,272.2 45.9,287.3 46.0,288.3 46.1,280.2 46.2,279.1 46.3,279.7 46.4,275.3 46.5,286.5 46.6,277.7 46.7,280.3 46.8,276.3 46.9,277.2 47.0,273.7 47.1,287.4 47.2,279.8 47.3,285.9 47.4,280.7 47.5,276.9 47.6,278.9 47.7,277.7 47.8,280.8 47.9,278.7 48.0,279.1 48.1,273.3 48.2,276.4 48.3,289.7 48.4,277.2 48.5,275.1 48.6,282.6 48.7,288.4 48.8,273.0 48.9,279.7 49.0,277.4 49.1,271.3 49.2,284.8 49.3,280.8 49.4,281.3 49.5,276.8 49.6,283.4 49.7,278.0 49.8,280.2 49.9,275.0 50.0,274.4 50.1,288.2 50.2,278.2 50.3,282.6 50.4,280.8 50.5,278.6 50.6,278.3 50.7,284.4 50.8,279.4 50.9,280.2 51.0,281.2 51.1,287.4 51.2,284.8 51.3,283.2 51.4,278.1 51.5,273.7 51.6,286.3 51.7,286.4 51.8,280.4 51.9,284.1 52.0,285.4 52.1,285.7 52.2,286.2 52.3,278.7 52.4,289.4 52.5,274.5 52.6,285.9 52.7,283.9 52.8,286.0 52.9,291.4 53.0,289.3 53.1,275.1 53.2,272.2 53.3,285.7 53.4,275.8 53.5,281.3 53.6,285.9 53.7,272.5 53.8,270.0 53.9,282.8 54.0,281.6 54.1,280.1 54.2,281.6 54.3,276.8 54.4,273.3 54.5,280.5 54.6,276.2 54.7,272.6 54.8,284.2 54.9,281.2 55.0,283.7 55.1,276.1 55.2,277.9 55.3,276.1 55.4,276.7 55.5,282.5 55.6,277.2 55.7,283.4 55.8,283.3 55.9,292.4 56.0,273.9 56.1,286.2 56.2,280.9 56.3,281.3 56.4,273.6 56.5,278.9 56.6,285.4 56.7,280.9 56.8,281.8 56.9,279.8 57.0,287.6 57.1,281.2 57.2,269.4 57.3,277.6 57.4,270.7 57.5,266.2 57.6,278.4 57.7,288.5 57.8,281.5 57.9,274.9 58.0,276.2 58.1,287.4 58.2,282.1 58.3,281.5 58.4,280.9 58.5,281.4 58.6,285.6 58.7,284.2 58.8,282.4 58.9,275.6 59.0,283.9 59.1,277.5 59.2,287.1 59.3,274.3 59.4,280.4 59.5,281.1 59.6,274.0 59.7,290.4 59.8,289.0 59.9,278.6 60.0,285.3 60.1,283.1 60.2,267.0 60.3,282.4 60.4,280.7 60.5,281.5 60.6,275.2 60.7,279.6 60.8,280.1 60.9,287.4 61.0,282.8 61.1,281.0 61.2,289.3 61.3,278.0 61.4,278.9 61.5,271.2 61.6,289.4 61.7,286.2 61.8,285.9 61.9,284.6 62.0,281.5 62.1,282.1 62.2,279.6 62.3,279.8 62.4,281.2 62.5,289.1 62.6,283.9 62.7,280.6 62.8,277.7 62.9,277.4 63.0,289.5 63.1,283.6 63.2,281.2 63.3,279.0 63.4,274.8 63.5,280.5 63.6,285.5 63.7,278.7 63.8,279.6 63.9,279.6 64.0,281.4 64.1,272.2 64.2,279.5 64.3,276.1 64.4,285.5 64.5,276.6 64.6,283.8 64.7,289.0 64.8,279.0 64.9,277.5 65.0,281.7 65.1,280.7 65.2,275.3 65.3,283.2 65.4,291.6 65.5,279.3 65.6,279.6 65.7,275.0 65.8,282.4 65.9,273.9 66.0,274.6 66.1,287.5 66.2,275.7 66.3,286.4 66.4,288.8 66.5,282.0 66.6,283.6 66.7,291.1 66.8,279.5 66.9,277.3 67.0,273.2 67.1,280.8 67.2,288.5 67.3,285.7 67.4,275.4 67.5,275.9 67.6,277.8 67.7,282.1 67.8,279.4 67.9,281.6 68.0,282.1 68.1,278.8 68.2,280.2 68.3,281.6 68.4,280.0 68.5,283.1 68.6,290.5 68.7,283.6 68.8,280.7 68.9,271.3 69.0,282.5 69.1,269.9 69.2,272.8 69.3,285.0 69.4,284.2 69.5,279.5 69.6,271.1 69.7,278.3 69.8,276.7 69.9,283.7 70.0,292.5 70.1,281.5 70.2,276.1 70.3,274.0 70.4,280.0 70.5,279.3 70.6,274.0 70.7,280.9 70.8,274.0 70.9,286.2 71.0,286.0 71.1,286.1 71.2,277.6 71.3,283.0 71.4,279.5 71.5,278.1 71.6,278.3 71.7,273.1 71.8,272.4 71.9,284.4 72.0,279.1 72.1,281.3 72.2,285.5 72.3,270.8 72.4,275.9 72.5,281.0 72.6,282.2 72.7,278.0 72.8,285.6 72.9,281.2 73.0,273.5 73.1,275.0 73.2,284.4 73.3,282.5 73.4,269.8 73.5,287.3 73.6,283.2 73.7,287.3 73.8,277.9 73.9,278.4 74.0,273.9 74.1,293.7 74.2,279.0 74.3,288.5 74.4,276.4 74.5,280.8 74.6,270.9 74.7,277.8 74.8,285.2 74.9,273.1 75.0,285.7 75.1,281.7 75.2,274.2 75.3,277.1 75.4,277.4 75.5,279.6 75.6,276.9 75.7,275.3 75.8,278.2 75.9,274.2 76.0,272.8 76.1,279.5 76.2,284.5 76.3,271.5 76.4,279.7 76.5,276.2 76.6,274.4 76.7,284.3 76.8,276.9 76.9,287.8 77.0,275.4 77.1,281.7 77.2,278.4 77.3,275.5 77.4,282.8 77.5,278.7 77.6,282.8 77.7,279.3 77.8,273.6 77.9,278.9 78.0,279.7 78.1,284.6 78.2,274.5 78.3,279.2 78.4,270.1 78.5,282.9 78.6,273.5 78.7,269.5 78.8,278.9 78.9,285.2 79.0,271.0 79.1,273.3 79.2,275.1 79.3,273.0 79.4,281.1 79.5,274.7 79.6,275.1 79.7,282.1 79.8,274.8 79.9,281.2 80.0,273.6 80.1,272.2 80.2,268.8 80.3,288.8 80.4,277.0 80.5,280.0 80.6,278.4 80.7,279.4 80.8,278.8 80.9,288.8 81.0,272.8 81.1,270.0 81.2,272.9 81.3,271.1 81.4,282.2 81.5,282.6 81.6,272.9 81.7,270.5 81.8,276.0 81.9,285.3 82.0,262.6 82.1,280.5 82.2,271.7 82.3,283.0 82.4,271.5 82.5,275.7 82.6,268.9 82.7,271.7 82.8,284.3 82.9,281.1 83.0,274.4 83.1,271.7 83.2,266.0 83.3,273.9 83.4,275.7 83.5,275.3 83.6,275.0 83.7,269.3 83.8,274.8 83.9,274.7 84.0,281.7 84.1,284.6 84.2,273.5 84.3,269.9 84.4,273.4 84.5,270.2 84.6,269.3 84.7,272.7 84.8,267.1 84.9,275.7 85.0,271.6 85.1,273.2 85.2,270.5 85.3,267.3 85.4,265.7 85.5,269.2 85.6,267.2 85.7,271.1 85.8,269.4 85.9,261.7 86.0,269.0 86.1,261.0 86.2,264.6 86.3,265.9 86.4,255.8 86.5,267.1 86.6,267.0 86.7,264.9 86.8,263.0 86.9,262.8 87.0,259.1 87.1,262.4 87.2,260.4 87.3,263.4 87.4,255.9 87.5,263.2 87.6,262.2 87.7,260.1 87.8,258.0 87.9,262.8 88.0,250.3 88.1,261.2 88.2,259.5 88.3,259.2 88.4,259.2 88.5,253.0 88.6,254.6 88.7,258.9 88.8,257.2 88.9,255.4 89.0,245.6 89.1,256.1 89.2,258.9 89.3,257.5 89.4,252.8 89.5,242.5 89.6,255.5 89.7,249.0 89.8,235.6 89.9,250.8 90.0,240.1 90.1,240.6 90.2,243.7 90.3,253.5 90.4,244.1 90.5,247.0 90.6,254.5 90.7,253.1 90.8,243.5 90.9,242.3 91.0,236.3 91.1,238.9 91.2,244.5 91.3,243.9 91.4,241.9 91.5,246.3 91.6,236.3 91.7,239.8 91.8,243.7 91.9,242.6 92.0,244.8 92.1,240.9 92.2,236.8 92.3,240.1 92.4,232.4 92.5,228.7 92.6,240.5 92.7,236.8 92.8,238.6 92.9,227.7 93.0,234.6 93.1,233.2 93.2,231.6 93.3,227.7 93.4,234.3 93.5,240.9 93.6,238.0 93.7,232.7 93.8,235.8 93.9,240.0 94.0,227.7 94.1,235.3 94.2,239.0 94.3,239.8 94.4,245.5 94.5,242.5 94.6,238.2 94.7,238.3 94.8,241.1 94.9,234.2 95.0,237.1 95.1,242.5 95.2,248.4 95.3,237.2 95.4,238.1 95.5,239.8 95.6,246.3 95.7,239.2 95.8,247.7 95.9,234.9 96.0,239.5 96.1,239.8 96.2,245.6 96.3,247.4 96.4,234.1 96.5,237.7 96.6,245.0 96.7,240.1 96.8,235.9 96.9,250.2 97.0,247.8 97.1,248.3 97.2,243.6 97.3,252.3 97.4,246.0 97.5,253.8 97.6,243.5 97.7,244.4 97.8,250.7 97.9,246.3 98.0,254.4 98.1,252.7 98.2,246.9 98.3,252.9 98.4,251.2 98.5,258.6 98.6,250.9 98.7,252.5 98.8,262.0 98.9,268.2 99.0,267.5 99.1,257.6 99.2,259.0 99.3,266.7 99.4,258.4 99.5,254.3 99.6,260.8 99.7,263.2 99.8,256.9 99.9,253.0 100.0,254.7 100.1,266.6 100.2,259.5 100.3,263.3 100.4,265.7 100.5,268.4 100.6,263.8 100.7,268.8 100.8,261.8 100.9,265.1 101.0,262.0 101.1,274.1 101.2,268.3 101.3,264.9 101.4,267.4 101.5,268.6 101.6,274.0 101.7,262.0 101.8,265.4 101.9,269.4 102.0,285.5 102.1,277.3 102.2,271.9 102.3,276.7 102.4,284.4 102.5,272.3 102.6,271.9 102.7,280.8 102.8,277.2 102.9,278.5 103.0,272.4 103.1,285.9 103.2,285.0 103.3,279.1 103.4,280.0 103.5,265.6 103.6,280.2 103.7,276.0 103.8,279.6 103.9,281.2 104.0,275.9 104.1,268.8 104.2,280.1 104.3,274.3 104.4,276.7 104.5,275.4 104.6,277.0 104.7,266.6 104.8,285.8 104.9,280.7 105.0,285.5 105.1,290.3 105.2,279.9 105.3,270.2 105.4,275.2 105.5,273.6 105.6,277.6 105.7,280.8 105.8,269.7 105.9,282.4 106.0,272.5 106.1,282.4 106.2,280.3 106.3,279.3 106.4,280.6 106.5,278.2 106.6,277.9 106.7,272.2 106.8,281.1 106.9,291.3 107.0,292.1 107.1,288.6 107.2,285.3 107.3,277.9 107.4,289.4 107.5,281.4 107.6,281.3 107.7,280.2 107.8,282.3 107.9,279.5 108.0,281.4 108.1,276.0 108.2,279.9 108.3,294.3 108.4,281.6 108.5,280.7 108.6,284.9 108.7,285.8 108.8,276.0 108.9,280.9 109.0,287.0 109.1,283.5 109.2,282.8 109.3,290.5 109.4,278.5 109.5,282.6 109.6,279.3 109.7,290.2 109.8,271.6 109.9,278.5 110.0,279.3 110.1,285.8 110.2,285.4 110.3,289.7 110.4,273.7 110.5,286.2 110.6,280.6 110.7,278.6 110.8,285.1 110.9,277.2 111.0,271.0 111.1,280.2 111.2,274.1 111.3,278.7 111.4,284.2 111.5,283.9 111.6,290.7 111.7,281.1 111.8,273.9 111.9,278.1 112.0,277.2 112.1,275.6 112.2,284.5 112.3,278.7 112.4,271.5 112.5,285.9 112.6,281.5 112.7,284.1 112.8,282.7 112.9,285.5 113.0,282.3 113.1,288.8 113.2,284.4 113.3,284.2 113.4,284.3 113.5,274.2 113.6,281.2 113.7,280.7 113.8,283.2 113.9,274.7 114.0,290.9 114.1,282.6 114.2,275.5 114.3,272.8 114.4,280.5 114.5,281.5 114.6,278.1 114.7,282.5 114.8,278.5 114.9,285.0 115.0,278.1 115.1,281.8 115.2,287.3 115.3,295.8 115.4,276.5 115.5,279.4 115.6,277.4 115.7,286.1 115.8,275.7 115.9,279.3 116.0,281.7 116.1,276.6 116.2,276.7 116.3,279.3 116.4,270.5 116.5,274.0 116.6,279.6 116.7,282.6 116.8,280.8 116.9,272.2 117.0,279.3 117.1,286.1 117.2,284.7 117.3,281.3 117.4,276.9 117.5,285.1 117.6,278.6 117.7,275.4 117.8,277.3 117.9,289.5 118.0,282.8 118.1,287.9 118.2,279.0 118.3,286.7 118.4,278.3 118.5,280.7 118.6,295.0 118.7,285.7 118.8,278.8 118.9,281.1 119.0,283.3 119.1,288.0 119.2,278.9 119.3,272.1 119.4,280.0 119.5,281.5 119.6,282.0 119.7,288.5 119.8,283.1 119.9,285.8 120.0,275.5 120.1,286.1 120.2,292.7 120.3,285.5 120.4,282.7 120.5,282.2 120.6,291.0 120.7,276.3 120.8,280.7 120.9,283.8 121.0,285.3 121.1,278.9 121.2,282.9 121.3,279.7 121.4,281.9 121.5,280.5 121.6,275.0 121.7,281.1 121.8,285.9 121.9,276.0 122.0,279.9 122.1,284.7 122.2,275.4 122.3,282.1 122.4,275.4 122.5,287.2 122.6,293.6 122.7,292.0 122.8,279.9 122.9,285.0 123.0,281.7 123.1,281.6 123.2,289.4 123.3,273.9 123.4,286.7 123.5,280.7 123.6,288.6 123.7,282.0 123.8,277.3 123.9,282.4 124.0,284.9 124.1,281.1 124.2,283.5 124.3,278.1 124.4,269.3 124.5,285.7 124.6,284.6 124.7,281.6 124.8,281.2 124.9,286.4 125.0,278.3 125.1,277.0 125.2,279.8 125.3,287.2 125.4,273.3 125.5,287.2 125.6,277.3 125.7,274.8 125.8,287.5 125.9,280.2 126.0,273.7 126.1,278.7 126.2,285.7 126.3,287.1 126.4,278.3 126.5,282.8 126.6,284.5 126.7,277.1 126.8,282.5 126.9,280.4 127.0,277.7 127.1,277.9 127.2,280.9 127.3,280.7 127.4,277.5 127.5,278.2 127.6,286.5 127.7,281.6 127.8,285.2 127.9,286.9 128.0,283.6 128.1,292.7 128.2,276.0 128.3,284.8 128.4,278.7 128.5,290.4 128.6,289.6 128.7,269.8 128.8,275.1 128.9,283.9 129.0,284.6 129.1,284.3 129.2,279.9 129.3,282.7 129.4,283.8 129.5,279.8 129.6,285.8 129.7,268.0 129.8,283.6 129.9,274.6 130.0,285.4 130.1,279.0 130.2,275.4 130.3,282.2 130.4,275.2 130.5,275.2 130.6,271.7 130.7,280.0 130.8,282.8 130.9,285.6 131.0,279.3 131.1,285.7 131.2,280.2 131.3,279.5 131.4,283.1 131.5,285.7 131.6,278.2 131.7,278.7 131.8,279.1 131.9,280.4 132.0,275.1 132.1,285.5 132.2,277.8 132.3,282.4 132.4,275.5 132.5,281.8 132.6,282.0 132.7,277.6 132.8,290.8 132.9,281.9 133.0,289.4 133.1,285.0 133.2,276.2 133.3,277.7 133.4,282.1 133.5,280.1 133.6,280.0 133.7,278.2 133.8,270.0 133.9,278.5 134.0,267.7 134.1,281.7 134.2,275.8 134.3,275.8 134.4,278.5 134.5,281.1 134.6,271.9 134.7,270.2 134.8,273.9 134.9,268.6 135.0,274.4 135.1,288.2 135.2,273.9 135.3,283.1 135.4,272.1 135.5,281.2 135.6,277.8 135.7,279.2 135.8,282.6 135.9,289.0 136.0,280.5 136.1,280.1 136.2,274.2 136.3,282.6 136.4,278.1 136.5,283.9 136.6,279.2 136.7,288.8 136.8,268.7 136.9,277.8 137.0,284.1 137.1,277.5 137.2,275.1 137.3,277.9 137.4,271.9 137.5,279.9 137.6,292.5 137.7,285.5 137.8,273.3 137.9,274.5 138.0,277.1 138.1,284.7 138.2,274.8 138.3,275.5 138.4,284.0 138.5,283.8 138.6,277.1 138.7,273.1 138.8,270.8 138.9,275.4 139.0,267.1 139.1,283.2 139.2,275.7 139.3,281.7 139.4,289.2 139.5,285.4 139.6,272.8 139.7,283.7 139.8,285.3 139.9,275.0 140.0,273.9 140.1,278.4 140.2,270.4 140.3,287.0 140.4,266.1 140.5,273.2 140.6,277.7 140.7,278.0 140.8,280.1 140.9,280.7 141.0,278.1 141.1,285.4 141.2,267.8 141.3,279.3 141.4,275.5 141.5,280.1 141.6,280.6 141.7,274.5 141.8,276.0 141.9,283.8 142.0,281.4 142.1,275.9 142.2,290.6 142.3,292.1 142.4,271.7 142.5,281.3 142.6,293.2 142.7,283.9 142.8,280.9 142.9,278.6 143.0,276.9 143.1,278.7 143.2,276.9 143.3,283.9 143.4,277.7 143.5,277.5 143.6,273.4 143.7,279.7 143.8,275.2 143.9,279.0 144.0,285.7 144.1,282.0 144.2,282.8 144.3,282.0 144.4,280.5 144.5,279.5 144.6,278.5 144.7,284.3 144.8,274.4 144.9,287.5 145.0,280.5 145.1,276.3 145.2,277.7 145.3,276.7 145.4,281.3 145.5,276.6 145.6,286.6 145.7,276.3 145.8,268.2 145.9,276.6 146.0,269.7 146.1,280.4 146.2,286.3 146.3,284.1 146.4,273.4 146.5,276.6 146.6,290.3 146.7,282.5 146.8,280.8 146.9,286.5 147.0,294.1 147.1,287.8 147.2,281.6 147.3,282.8 147.4,284.3 147.5,277.6 147.6,275.3 147.7,281.3 147.8,275.9 147.9,280.7 148.0,281.6 148.1,293.7 148.2,276.5 148.3,280.5 148.4,280.3 148.5,283.6 148.6,286.9 148.7,278.6 148.8,276.9 148.9,272.5 149.0,276.3 149.1,284.3 149.2,281.6 149.3,275.9 149.4,279.4 149.5,281.6 149.6,284.2 149.7,278.3 149.8,280.2 149.9,271.8 150.0,275.4 150.1,290.4 150.2,269.8 150.3,279.9 150.4,282.9 150.5,279.7 150.6,277.4 150.7,281.5 150.8,281.8 150.9,281.4 151.0,271.7 151.1,281.1 151.2,277.3 151.3,279.0 151.4,283.2 151.5,285.4 151.6,286.9 151.7,279.4 151.8,287.1 151.9,288.4 152.0,288.3 152.1,289.7 152.2,281.4 152.3,281.3 152.4,286.7 152.5,274.9 152.6,283.4 152.7,279.4 152.8,280.3 152.9,272.9 153.0,277.6 153.1,282.3 153.2,287.2 153.3,287.8 153.4,282.1 153.5,281.5 153.6,278.1 153.7,284.7 153.8,281.3 153.9,285.9 154.0,292.1 154.1,282.5 154.2,274.6 154.3,278.1 154.4,274.9 154.5,276.3 154.6,289.8 154.7,284.0 154.8,274.6 154.9,286.4 155.0,289.7 155.1,281.0 155.2,279.3 155.3,281.2 155.4,284.5 155.5,286.5 155.6,289.4 155.7,289.6 155.8,289.5 155.9,290.5 156.0,286.7 156.1,274.9 156.2,282.5 156.3,284.9 156.4,281.2 156.5,288.2 156.6,281.4 156.7,278.3 156.8,291.2 156.9,287.0 157.0,284.6 157.1,288.5 157.2,289.2 157.3,285.3 157.4,270.3 157.5,279.9 157.6,281.1 157.7,278.3 157.8,284.7 157.9,290.1 158.0,281.1 158.1,277.6 158.2,294.7 158.3,281.3 158.4,277.1 158.5,285.1 158.6,286.1 158.7,280.1 158.8,288.2 158.9,281.3 159.0,279.0 159.1,284.9 159.2,288.2 159.3,280.6 159.4,285.8 159.5,283.6 159.6,299.2 159.7,280.3 159.8,291.6 159.9,283.9 160.0,283.5 160.1,288.1 160.2,289.1 160.3,291.1 160.4,286.1 160.5,281.1 160.6,281.5 160.7,287.1 160.8,287.5 160.9,292.0 161.0,286.7 161.1,290.2 161.2,292.7 161.3,285.4 161.4,276.5 161.5,278.2 161.6,276.9 161.7,293.2 161.8,280.1 161.9,291.3 162.0,287.9 162.1,294.0 162.2,290.2 162.3,284.2 162.4,283.7 162.5,285.3 162.6,285.8 162.7,282.0 162.8,284.8 162.9,293.6 163.0,275.8 163.1,286.4 163.2,280.1 163.3,286.1 163.4,289.6 163.5,284.8 163.6,289.3 163.7,276.6 163.8,291.2 163.9,282.0 164.0,288.6 164.1,286.3 164.2,271.3 164.3,281.2 164.4,286.5 164.5,293.8 164.6,286.9 164.7,286.8 164.8,277.8 164.9,293.2 165.0,295.3 165.1,285.7 165.2,284.3 165.3,276.8 165.4,290.3 165.5,300.1 165.6,289.4 165.7,292.4 165.8,288.5 165.9,280.2 166.0,292.8 166.1,278.9 166.2,284.4 166.3,287.1 166.4,290.3 166.5,287.8 166.6,287.7 166.7,281.5 166.8,278.6 166.9,285.9 167.0,281.8 167.1,278.6 167.2,278.8 167.3,283.0 167.4,275.6 167.5,278.4 167.6,276.8 167.7,286.6 167.8,287.9 167.9,296.5 168.0,277.6 168.1,282.0 168.2,290.6 168.3,284.5 168.4,283.9 168.5,294.9 168.6,283.9 168.7,279.5 168.8,278.6 168.9,287.5 169.0,287.4 169.1,278.3 169.2,280.4 169.3,288.6 169.4,288.9 169.5,282.3 169.6,289.1 169.7,288.8 169.8,276.1 169.9,284.1 170.0,288.0 170.1,282.7 170.2,274.2 170.3,284.3 170.4,289.9 170.5,294.3 170.6,274.0 170.7,299.9 170.8,279.7 170.9,291.0 171.0,292.5 171.1,291.1 171.2,286.7 171.3,279.6 171.4,289.2 171.5,282.0 171.6,272.2 171.7,301.0 171.8,289.7 171.9,295.7 172.0,281.0 172.1,293.8 172.2,294.5 172.3,294.3 172.4,285.8 172.5,279.4 172.6,285.0 172.7,274.0 172.8,276.7 172.9,286.4 173.0,280.6 173.1,285.1 173.2,285.4 173.3,296.4 173.4,293.0 173.5,285.7 173.6,292.5 173.7,281.8 173.8,284.2 173.9,290.9 174.0,279.3 174.1,284.5 174.2,278.9 174.3,286.7 174.4,294.8 174.5,282.0 174.6,287.3 174.7,281.2 174.8,279.8 174.9,279.4 175.0,293.9 175.1,298.8 175.2,288.7 175.3,282.2 175.4,289.9 175.5,284.3 175.6,290.4 175.7,287.7 175.8,287.6 175.9,289.4 176.0,283.0 176.1,283.9 176.2,276.8 176.3,283.7 176.4,278.5 176.5,285.4 176.6,281.0 176.7,286.7 176.8,288.6 176.9,278.5 177.0,281.8 177.1,281.1 177.2,290.2 177.3,295.4 177.4,290.8 177.5,284.3 177.6,294.1 177.7,278.0 177.8,294.3 177.9,282.7 178.0,271.2 178.1,300.5 178.2,294.8 178.3,280.7 178.4,287.2 178.5,285.1 178.6,286.8 178.7,278.3 178.8,282.6 178.9,288.8 179.0,287.5 179.1,292.8 179.2,286.7 179.3,299.0 179.4,282.4 179.5,287.7 179.6,276.0 179.7,279.5 179.8,293.5 179.9,281.2 180.0,289.2 180.1,286.0 180.2,280.7 180.3,284.5 180.4,283.6 180.5,283.7 180.6,290.4 180.7,289.9 180.8,283.3 180.9,281.5 181.0,287.9 181.1,285.9 181.2,292.0 181.3,300.7 181.4,291.0 181.5,286.2 181.6,285.5 181.7,281.8 181.8,281.5 181.9,281.0 182.0,284.3 182.1,284.1 182.2,290.5 182.3,284.3 182.4,285.4 182.5,279.9 182.6,295.4 182.7,289.2 182.8,296.1 182.9,290.8 183.0,294.5 183.1,285.2 183.2,290.4 183.3,301.1 183.4,279.9 183.5,292.9 183.6,295.7 183.7,288.8 183.8,290.7 183.9,293.5 184.0,282.9 184.1,288.8 184.2,281.8 184.3,282.8 184.4,283.2 184.5,285.8 184.6,287.4 184.7,289.1 184.8,278.8 184.9,297.6 185.0,293.0 185.1,290.6 185.2,284.6 185.3,286.1 185.4,289.7 185.5,288.9 185.6,277.4 185.7,290.8 185.8,301.8 185.9,276.4 186.0,292.2 186.1,288.7 186.2,286.1 186.3,294.3 186.4,280.1 186.5,287.6 186.6,294.8 186.7,285.6 186.8,284.4 186.9,287.4 187.0,284.3 187.1,295.3 187.2,281.7 187.3,291.6 187.4,279.8 187.5,290.5 187.6,286.2 187.7,272.4 187.8,286.7 187.9,280.8 188.0,284.3 188.1,295.3 188.2,280.6 188.3,280.9 188.4,294.8 188.5,287.4 188.6,295.4 188.7,288.6 188.8,281.9 188.9,286.5 189.0,293.7 189.1,292.1 189.2,286.8 189.3,287.1 189.4,286.2 189.5,283.6 189.6,297.6 189.7,286.9 189.8,280.6 189.9,284.2 190.0,290.9 190.1,290.5 190.2,286.1 190.3,283.2 190.4,287.0 190.5,277.6 190.6,279.7 190.7,291.4 190.8,284.3 190.9,289.0 191.0,293.7 191.1,290.6 191.2,287.1 191.3,298.8 191.4,290.7" fill="none" stroke="#0627c2" stroke-width="0.75"/>
<text x="32.30" y="348.80" font-size="7" font-family='"Liberation Sans",sans-serif' fill="#222" text-anchor="middle">410</text>
<text x="58.87" y="348.80" font-size="7" font-family='"Liberation Sans",sans-serif' fill="#222" text-anchor="middle">405</text>
<text x="85.43" y="348.80" font-size="7" font-family='"Liberation Sans",sans-serif' fill="#222" text-anchor="middle">400</text>
<text x="112.00" y="348.80" font-size="7" font-family='"Liberation Sans",sans-serif' fill="#222" text-anchor="middle">395</text>
<text x="138.57" y="348.80" font-size="7" font-family='"Liberation Sans",sans-serif' fill="#222" text-anchor="middle">390</text>
<text x="165.13" y="348.80" font-size="7" font-family='"Liberation Sans",sans-serif' fill="#222" text-anchor="middle">385</text>
<text x="191.70" y="348.80" font-size="7" font-family='"Liberation Sans",sans-serif' fill="#222" text-anchor="middle">380</text>
<text x="82.60" y="356.70" font-size="7.1" font-family='"Liberation Sans",sans-serif' fill="#222" textLength="63.9" lengthAdjust="spacingAndGlyphs">Binding Energy (eV)</text>
<text x="0.00" y="0.00" font-size="7.1" font-family='"Liberation Sans",sans-serif' fill="#222" text-anchor="middle" textLength="44.5" lengthAdjust="spacingAndGlyphs" transform="translate(25.3,283.6) rotate(-90)">Intensity (a.u)</text>
<path d="M137.5,239.5H151.3" stroke="#1d3fe0" stroke-width="1.3"/>
<path d="M137.5,247.7H151.3" stroke="#ff3040" stroke-width="1.3"/>
<text x="154.60" y="241.60" font-size="7.1" font-family='"Liberation Sans",sans-serif' fill="#222" textLength="30.9" lengthAdjust="spacingAndGlyphs">Sputtered</text>
<text x="154.60" y="249.80" font-size="7.1" font-family='"Liberation Sans",sans-serif' fill="#222" textLength="29.5" lengthAdjust="spacingAndGlyphs">As-grown</text>
<text x="216.30" y="211.80" font-size="10.2" font-family='"Liberation Serif",serif' fill="#222" stroke="#222" stroke-width="0.2">(c)</text>
<text x="285.60" y="212.30" font-size="11.2" font-family='"Liberation Sans",sans-serif' fill="#111" textLength="26.5" lengthAdjust="spacingAndGlyphs" stroke="#111" stroke-width="0.2">Ga2p</text>
<rect x="224.70" y="227.00" width="164.60" height="114.40" fill="none" stroke="#5e5e5e" stroke-width="1.5"/>
<path d="M224.70,341.40v-2.2M224.70,227.00v2.2M257.62,341.40v-2.2M257.62,227.00v2.2M290.54,341.40v-2.2M290.54,227.00v2.2M323.46,341.40v-2.2M323.46,227.00v2.2M356.38,341.40v-2.2M356.38,227.00v2.2M389.30,341.40v-2.2M389.30,227.00v2.2M224.70,239.70h2.2M389.30,239.70h-2.2M224.70,256.20h2.2M389.30,256.20h-2.2M224.70,272.70h2.2M389.30,272.70h-2.2M224.70,289.20h2.2M389.30,289.20h-2.2M224.70,305.70h2.2M389.30,305.70h-2.2M224.70,322.20h2.2M389.30,322.20h-2.2M224.70,338.70h2.2M389.30,338.70h-2.2" stroke="#444" stroke-width="1.1" fill="none"/>
<polyline points="225.50,336.72 226.00,336.28 226.50,336.84 227.00,336.79 227.50,336.39 228.00,337.03 228.50,337.13 229.00,336.83 229.50,336.95 230.00,336.83 230.50,337.30 231.00,336.75 231.50,337.09 232.00,337.68 232.50,337.24 233.00,337.37 233.50,337.24 234.00,337.02 234.50,337.33 235.00,337.47 235.50,337.14 236.00,337.51 236.50,337.77 237.00,337.75 237.50,337.12 238.00,337.30 238.50,337.17 239.00,337.87 239.50,337.78 240.00,337.83 240.50,337.47 241.00,337.44 241.50,337.78 242.00,337.82 242.50,337.61 243.00,337.90 243.50,338.06 244.00,337.99 244.50,337.70 245.00,337.47 245.50,337.96 246.00,338.10 246.50,338.03 247.00,338.02 247.50,337.99 248.00,338.37 248.50,338.21 249.00,338.29 249.50,338.05 250.00,338.16 250.50,338.39 251.00,338.13 251.50,338.10 252.00,338.36 252.50,338.77 253.00,338.55 253.50,338.90 254.00,338.53 254.50,338.51 255.00,338.27 255.50,338.50 256.00,339.02 256.50,338.77 257.00,338.90 257.50,338.88 258.00,338.68 258.50,338.62 259.00,338.68 259.50,338.80 260.00,338.71 260.50,338.69 261.00,338.55 261.50,338.26 262.00,338.29 262.50,338.00 263.00,338.33 263.50,337.33 264.00,337.52 264.50,337.80 265.00,336.66 265.50,335.90 266.00,335.52 266.50,335.09 267.00,333.90 267.50,333.21 268.00,332.18 268.50,331.22 269.00,331.36 269.50,330.03 270.00,329.56 270.50,329.54 271.00,330.02 271.50,330.55 272.00,331.35 272.50,332.03 273.00,332.53 273.50,333.92 274.00,334.56 274.50,335.34 275.00,335.73 275.50,336.54 276.00,336.98 276.50,337.54 277.00,337.49 277.50,338.10 278.00,338.29 278.50,338.11 279.00,338.34 279.50,338.35 280.00,338.85 280.50,338.03 281.00,338.61 281.50,338.31 282.00,338.64 282.50,338.98 283.00,338.63 283.50,338.84 284.00,338.61 284.50,339.27 285.00,338.97 285.50,338.99 286.00,338.34 286.50,338.36 287.00,338.86 287.50,338.50 288.00,338.45 288.50,338.55 289.00,338.11 289.50,338.58 290.00,338.35 290.50,338.42 291.00,338.09 291.50,338.34 292.00,338.00 292.50,338.37 293.00,338.37 293.50,338.27 294.00,338.13 294.50,338.11 295.00,337.23 295.50,338.07 296.00,337.75 296.50,337.80 297.00,337.66 297.50,337.34 298.00,337.50 298.50,337.83 299.00,338.05 299.50,337.57 300.00,337.53 300.50,338.15 301.00,337.60 301.50,338.36 302.00,337.89 302.50,337.68 303.00,338.18 303.50,338.39 304.00,337.63 304.50,338.41 305.00,337.98 305.50,338.46 306.00,338.02 306.50,337.76 307.00,338.31 307.50,338.45 308.00,338.78 308.50,338.72 309.00,338.50 309.50,338.30 310.00,338.26 310.50,338.35 311.00,338.25 311.50,338.43 312.00,337.89 312.50,338.61 313.00,338.59 313.50,339.27 314.00,338.85 314.50,338.58 315.00,338.87 315.50,338.46 316.00,338.65 316.50,338.36 317.00,339.22 317.50,339.05 318.00,338.64 318.50,338.95 319.00,339.24 319.50,339.16 320.00,339.16 320.50,338.88 321.00,338.97 321.50,339.19 322.00,339.43 322.50,339.02 323.00,338.98 323.50,339.58 324.00,339.10 324.50,339.63 325.00,339.45 325.50,339.65 326.00,339.89 326.50,339.66 327.00,339.72 327.50,339.33 328.00,339.41 328.50,339.78 329.00,340.04 329.50,340.03 330.00,340.29 330.50,339.79 331.00,339.76 331.50,339.96 332.00,339.71 332.50,339.69 333.00,339.44 333.50,339.94 334.00,339.42 334.50,339.81 335.00,339.33 335.50,339.95 336.00,339.42 336.50,339.88 337.00,339.26 337.50,339.55 338.00,339.94 338.50,339.44 339.00,339.65 339.50,339.51 340.00,339.04 340.50,339.69 341.00,339.71 341.50,339.31 342.00,339.72 342.50,339.36 343.00,339.30 343.50,339.53 344.00,339.35 344.50,340.07 345.00,339.09 345.50,339.64 346.00,339.67 346.50,338.90 347.00,338.93 347.50,339.47 348.00,339.16 348.50,339.33 349.00,339.45 349.50,338.99 350.00,338.71 350.50,338.15 351.00,338.68 351.50,338.12 352.00,338.04 352.50,337.50 353.00,336.38 353.50,336.24 354.00,334.90 354.50,333.40 355.00,331.19 355.50,329.44 356.00,327.31 356.50,325.17 357.00,322.92 357.50,321.50 358.00,320.10 358.50,319.45 359.00,319.31 359.50,320.59 360.00,321.77 360.50,322.92 361.00,325.55 361.50,327.86 362.00,330.19 362.50,331.77 363.00,333.44 363.50,334.72 364.00,336.18 364.50,336.78 365.00,337.41 365.50,337.87 366.00,338.55 366.50,338.54 367.00,338.45 367.50,339.16 368.00,338.93 368.50,339.27 369.00,339.34 369.50,339.60 370.00,339.60 370.50,339.23 371.00,339.36 371.50,339.11 372.00,339.88 372.50,339.59 373.00,339.85 373.50,339.44 374.00,339.03 374.50,339.94 375.00,339.59 375.50,339.61 376.00,339.61 376.50,339.77 377.00,339.75 377.50,339.23 378.00,339.90 378.50,339.51 379.00,339.53 379.50,340.09 380.00,339.89 380.50,339.58 381.00,339.21 381.50,339.47 382.00,339.32 382.50,338.92 383.00,338.38 383.50,338.25 384.00,337.89 384.50,338.01 385.00,337.91 385.50,337.72 386.00,337.03 386.50,337.39 387.00,337.59 387.50,337.44 388.00,337.65" fill="none" stroke="#ff1010" stroke-width="1.4" stroke-linejoin="round"/>
<polyline points="225.50,321.24 226.00,321.61 226.50,321.45 227.00,321.94 227.50,321.72 228.00,322.18 228.50,321.99 229.00,322.04 229.50,321.93 230.00,321.96 230.50,322.10 231.00,322.20 231.50,321.83 232.00,322.16 232.50,322.73 233.00,322.08 233.50,322.14 234.00,322.13 234.50,322.03 235.00,322.79 235.50,322.60 236.00,322.76 236.50,323.24 237.00,323.50 237.50,322.74 238.00,323.32 238.50,323.31 239.00,323.35 239.50,323.46 240.00,323.43 240.50,323.92 241.00,323.77 241.50,323.80 242.00,324.12 242.50,324.12 243.00,324.10 243.50,324.12 244.00,324.53 244.50,324.27 245.00,324.16 245.50,324.02 246.00,324.20 246.50,324.07 247.00,324.40 247.50,324.49 248.00,323.96 248.50,324.52 249.00,324.72 249.50,324.64 250.00,324.40 250.50,325.00 251.00,324.55 251.50,324.46 252.00,324.53 252.50,324.83 253.00,325.12 253.50,325.20 254.00,324.99 254.50,324.62 255.00,324.74 255.50,324.66 256.00,324.81 256.50,324.38 257.00,324.82 257.50,324.92 258.00,324.68 258.50,324.78 259.00,324.38 259.50,324.18 260.00,324.30 260.50,324.65 261.00,324.49 261.50,323.97 262.00,324.20 262.50,323.58 263.00,323.75 263.50,323.13 264.00,322.47 264.50,322.25 265.00,321.24 265.50,320.45 266.00,319.45 266.50,318.85 267.00,317.60 267.50,316.25 268.00,314.66 268.50,313.45 269.00,311.17 269.50,309.13 270.00,307.54 270.50,305.43 271.00,302.96 271.50,300.25 272.00,298.41 272.50,296.73 273.00,294.80 273.50,293.70 274.00,291.84 274.50,291.64 275.00,291.08 275.50,291.80 276.00,292.16 276.50,293.56 277.00,294.63 277.50,296.21 278.00,298.27 278.50,300.52 279.00,302.60 279.50,305.36 280.00,307.55 280.50,309.36 281.00,311.00 281.50,313.05 282.00,314.57 282.50,316.61 283.00,317.66 283.50,318.88 284.00,319.68 284.50,320.15 285.00,321.21 285.50,321.74 286.00,322.64 286.50,323.00 287.00,323.13 287.50,323.48 288.00,324.17 288.50,323.69 289.00,323.82 289.50,324.09 290.00,324.04 290.50,324.16 291.00,324.43 291.50,324.76 292.00,323.90 292.50,324.35 293.00,324.37 293.50,324.11 294.00,323.86 294.50,323.58 295.00,323.68 295.50,323.07 296.00,322.91 296.50,322.70 297.00,322.48 297.50,322.17 298.00,322.21 298.50,321.81 299.00,321.72 299.50,321.51 300.00,321.13 300.50,321.03 301.00,320.82 301.50,320.99 302.00,320.61 302.50,320.37 303.00,320.55 303.50,320.47 304.00,319.74 304.50,320.45 305.00,320.07 305.50,320.07 306.00,320.40 306.50,320.18 307.00,320.05 307.50,320.78 308.00,320.00 308.50,320.27 309.00,320.54 309.50,320.09 310.00,320.36 310.50,320.63 311.00,321.28 311.50,320.59 312.00,320.95 312.50,321.27 313.00,321.26 313.50,321.08 314.00,321.63 314.50,321.69 315.00,321.92 315.50,322.23 316.00,322.34 316.50,322.32 317.00,322.44 317.50,322.23 318.00,322.61 318.50,322.83 319.00,322.81 319.50,323.08 320.00,322.98 320.50,323.63 321.00,323.85 321.50,323.27 322.00,323.53 322.50,323.43 323.00,323.87 323.50,323.72 324.00,323.69 324.50,323.67 325.00,323.82 325.50,323.59 326.00,324.07 326.50,323.78 327.00,324.15 327.50,324.10 328.00,324.40 328.50,324.18 329.00,324.49 329.50,324.06 330.00,324.49 330.50,324.34 331.00,324.49 331.50,324.52 332.00,324.78 332.50,324.09 333.00,324.73 333.50,324.32 334.00,325.04 334.50,324.25 335.00,324.49 335.50,324.31 336.00,325.14 336.50,324.40 337.00,324.74 337.50,324.57 338.00,324.24 338.50,324.59 339.00,324.83 339.50,324.60 340.00,324.86 340.50,324.52 341.00,324.59 341.50,324.46 342.00,324.62 342.50,324.97 343.00,324.55 343.50,324.47 344.00,324.23 344.50,324.15 345.00,324.65 345.50,323.94 346.00,323.93 346.50,324.05 347.00,323.88 347.50,324.39 348.00,323.20 348.50,323.75 349.00,323.67 349.50,323.02 350.00,322.90 350.50,322.87 351.00,322.80 351.50,321.70 352.00,320.97 352.50,320.91 353.00,320.19 353.50,318.69 354.00,316.97 354.50,316.40 355.00,314.24 355.50,312.52 356.00,309.87 356.50,307.11 357.00,304.09 357.50,301.27 358.00,297.68 358.50,292.96 359.00,289.25 359.50,285.81 360.00,281.13 360.50,276.83 361.00,273.34 361.50,269.84 362.00,266.89 362.50,264.50 363.00,263.03 363.50,262.37 364.00,262.86 364.50,263.77 365.00,265.94 365.50,268.72 366.00,272.40 366.50,275.91 367.00,279.80 367.50,284.12 368.00,288.26 368.50,292.54 369.00,296.33 369.50,300.38 370.00,303.72 370.50,306.53 371.00,309.28 371.50,312.12 372.00,314.24 372.50,316.02 373.00,317.33 373.50,318.64 374.00,320.37 374.50,321.46 375.00,322.29 375.50,322.45 376.00,323.59 376.50,323.66 377.00,324.28 377.50,324.62 378.00,324.59 378.50,324.88 379.00,324.71 379.50,325.18 380.00,325.12 380.50,325.71 381.00,325.64 381.50,325.86 382.00,325.72 382.50,325.46 383.00,325.69 383.50,325.49 384.00,325.72 384.50,325.61 385.00,325.26 385.50,325.13 386.00,324.76 386.50,324.28 387.00,324.20 387.50,324.01 388.00,323.10" fill="none" stroke="#0d33ff" stroke-width="1.4" stroke-linejoin="round"/>
<text x="224.70" y="351.00" font-size="7" font-family='"Liberation Sans",sans-serif' fill="#222" text-anchor="middle">1160</text>
<text x="257.62" y="351.00" font-size="7" font-family='"Liberation Sans",sans-serif' fill="#222" text-anchor="middle">1150</text>
<text x="290.54" y="351.00" font-size="7" font-family='"Liberation Sans",sans-serif' fill="#222" text-anchor="middle">1140</text>
<text x="323.46" y="351.00" font-size="7" font-family='"Liberation Sans",sans-serif' fill="#222" text-anchor="middle">1130</text>
<text x="356.38" y="351.00" font-size="7" font-family='"Liberation Sans",sans-serif' fill="#222" text-anchor="middle">1120</text>
<text x="389.30" y="351.00" font-size="7" font-family='"Liberation Sans",sans-serif' fill="#222" text-anchor="middle">1110</text>
<text x="281.60" y="360.30" font-size="7.1" font-family='"Liberation Sans",sans-serif' fill="#222" textLength="64.2" lengthAdjust="spacingAndGlyphs">Binding Energy (eV)</text>
<text x="0.00" y="0.00" font-size="7.1" font-family='"Liberation Sans",sans-serif' fill="#222" text-anchor="middle" textLength="44.8" lengthAdjust="spacingAndGlyphs" transform="translate(218.6,286.3) rotate(-90)">Intensity (a.u)</text>
<path d="M232.3,237.6H245.8" stroke="#3a5ae8" stroke-width="1.3"/>
<path d="M232.3,246.2H245.8" stroke="#ff3040" stroke-width="1.3"/>
<text x="249.40" y="239.80" font-size="7.1" font-family='"Liberation Sans",sans-serif' fill="#222" textLength="30.9" lengthAdjust="spacingAndGlyphs">Sputtered</text>
<text x="249.40" y="248.40" font-size="7.1" font-family='"Liberation Sans",sans-serif' fill="#222" textLength="29.5" lengthAdjust="spacingAndGlyphs">As-grown</text>
<text x="268.00" y="273.30" font-size="7" font-family='"Liberation Sans",sans-serif' fill="#222">2p</text>
<text x="276.00" y="275.30" font-size="4.6" font-family='"Liberation Sans",sans-serif' fill="#222">1/2</text>
<path d="M275.40,277.10V282.20" stroke="#777" stroke-width="0.7"/><path d="M274.30,281.40L276.50,281.40L275.40,283.40Z" fill="#333"/>
<text x="357.20" y="246.20" font-size="7" font-family='"Liberation Sans",sans-serif' fill="#222">2p</text>
<text x="365.20" y="248.20" font-size="4.6" font-family='"Liberation Sans",sans-serif' fill="#222">3/2</text>
<path d="M364.60,250.20V254.80" stroke="#777" stroke-width="0.7"/><path d="M363.50,254.00L365.70,254.00L364.60,256.00Z" fill="#333"/>
<text x="432.20" y="211.70" font-size="10.2" font-family='"Liberation Serif",serif' fill="#222" stroke="#222" stroke-width="0.2">(d)</text>
<text x="508.90" y="213.80" font-size="11.2" font-family='"Liberation Sans",sans-serif' fill="#111" textLength="19.1" lengthAdjust="spacingAndGlyphs" stroke="#111" stroke-width="0.2">O1s</text>
<rect x="429.80" y="224.00" width="176.40" height="119.50" fill="none" stroke="#5e5e5e" stroke-width="1.5"/>
<path d="M429.80,343.50v-2.2M429.80,224.00v2.2M455.00,343.50v-2.2M455.00,224.00v2.2M480.20,343.50v-2.2M480.20,224.00v2.2M505.40,343.50v-2.2M505.40,224.00v2.2M530.60,343.50v-2.2M530.60,224.00v2.2M555.80,343.50v-2.2M555.80,224.00v2.2M581.00,343.50v-2.2M581.00,224.00v2.2M606.20,343.50v-2.2M606.20,224.00v2.2M429.80,240.40h2.2M606.20,240.40h-2.2M429.80,258.05h2.2M606.20,258.05h-2.2M429.80,275.70h2.2M606.20,275.70h-2.2M429.80,293.35h2.2M606.20,293.35h-2.2M429.80,311.00h2.2M606.20,311.00h-2.2M429.80,328.65h2.2M606.20,328.65h-2.2" stroke="#444" stroke-width="1.1" fill="none"/>
<polyline points="430.0,325.1 430.1,317.4 430.2,338.4 430.3,332.5 430.4,329.0 430.5,329.4 430.6,325.1 430.7,322.8 430.8,326.1 430.9,326.7 431.0,324.7 431.1,320.5 431.2,326.2 431.3,330.7 431.4,325.3 431.5,327.9 431.6,317.5 431.7,326.8 431.8,327.2 431.9,321.7 432.0,319.2 432.1,329.9 432.2,323.8 432.3,330.3 432.4,325.8 432.5,331.0 432.6,326.2 432.7,320.4 432.8,327.5 432.9,326.3 433.0,331.2 433.1,325.7 433.2,326.0 433.3,332.3 433.4,333.8 433.5,331.8 433.6,333.2 433.7,330.3 433.8,331.9 433.9,332.4 434.0,330.0 434.1,328.4 434.2,328.8 434.3,340.1 434.4,328.1 434.5,326.9 434.6,326.3 434.7,327.9 434.8,329.3 434.9,322.4 435.0,318.2 435.1,329.6 435.2,320.1 435.3,329.4 435.4,328.8 435.5,333.9 435.6,336.5 435.7,330.0 435.8,325.4 435.9,322.3 436.0,324.2 436.1,328.4 436.2,317.9 436.3,328.6 436.4,328.2 436.5,331.5 436.6,326.6 436.7,328.8 436.8,324.6 436.9,325.9 437.0,319.4 437.1,328.9 437.2,336.0 437.3,329.1 437.4,330.1 437.5,323.4 437.6,335.5 437.7,324.5 437.8,332.4 437.9,328.9 438.0,323.6 438.1,333.5 438.2,328.5 438.3,329.3 438.4,330.7 438.5,328.3 438.6,326.5 438.7,330.7 438.8,326.4 438.9,328.8 439.0,325.1 439.1,321.0 439.2,325.1 439.3,326.0 439.4,328.5 439.5,334.4 439.6,320.0 439.7,329.1 439.8,317.4 439.9,323.3 440.0,326.0 440.1,317.3 440.2,319.3 440.3,329.3 440.4,328.9 440.5,328.0 440.6,324.6 440.7,339.4 440.8,327.8 440.9,324.3 441.0,337.0 441.1,331.7 441.2,326.8 441.3,334.6 441.4,329.4 441.5,331.9 441.6,329.8 441.7,323.5 441.8,333.5 441.9,329.5 442.0,323.6 442.1,324.9 442.2,333.5 442.3,326.9 442.4,329.0 442.5,332.0 442.6,329.4 442.7,321.1 442.8,331.9 442.9,333.5 443.0,333.1 443.1,336.9 443.2,330.6 443.3,332.7 443.4,336.8 443.5,327.4 443.6,337.5 443.7,337.5 443.8,332.8 443.9,338.0 444.0,333.1 444.1,324.5 444.2,334.6 444.3,330.5 444.4,331.0 444.5,329.7 444.6,335.7 444.7,331.7 444.8,325.4 444.9,331.4 445.0,332.6 445.1,325.3 445.2,326.8 445.3,327.0 445.4,325.9 445.5,330.7 445.6,334.1 445.7,338.5 445.8,335.0 445.9,334.1 446.0,334.7 446.1,335.7 446.2,327.2 446.3,332.5 446.4,330.7 446.5,328.4 446.6,326.8 446.7,326.6 446.8,327.7 446.9,322.9 447.0,331.7 447.1,329.0 447.2,329.6 447.3,330.8 447.4,332.8 447.5,326.2 447.6,328.6 447.7,321.1 447.8,318.1 447.9,319.5 448.0,336.9 448.1,320.1 448.2,331.6 448.3,336.6 448.4,326.9 448.5,337.4 448.6,338.5 448.7,334.0 448.8,341.1 448.9,332.4 449.0,325.6 449.1,331.9 449.2,327.1 449.3,322.8 449.4,322.9 449.5,340.9 449.6,326.6 449.7,329.2 449.8,326.0 449.9,330.1 450.0,328.2 450.1,327.4 450.2,323.4 450.3,322.4 450.4,325.7 450.5,330.9 450.6,339.8 450.7,334.7 450.8,338.6 450.9,331.9 451.0,329.1 451.1,322.9 451.2,329.5 451.3,318.8 451.4,328.0 451.5,337.7 451.6,331.2 451.7,335.2 451.8,327.7 451.9,322.7 452.0,327.2 452.1,327.6 452.2,335.7 452.3,339.5 452.4,326.0 452.5,327.9 452.6,328.9 452.7,327.9 452.8,323.5 452.9,330.2 453.0,331.5 453.1,331.7 453.2,323.7 453.3,329.2 453.4,321.1 453.5,334.3 453.6,324.7 453.7,328.4 453.8,327.6 453.9,326.9 454.0,324.5 454.1,321.0 454.2,338.5 454.3,331.1 454.4,331.2 454.5,340.4 454.6,329.4 454.7,332.6 454.8,330.0 454.9,335.8 455.0,332.4 455.1,331.5 455.2,328.7 455.3,331.3 455.4,335.8 455.5,319.6 455.6,329.3 455.7,327.9 455.8,328.5 455.9,320.1 456.0,333.7 456.1,325.8 456.2,328.9 456.3,327.5 456.4,321.7 456.5,327.8 456.6,320.8 456.7,325.4 456.8,328.5 456.9,330.1 457.0,330.4 457.1,329.4 457.2,340.8 457.3,332.3 457.4,324.0 457.5,327.1 457.6,326.9 457.7,329.3 457.8,327.1 457.9,325.9 458.0,338.4 458.1,330.4 458.2,328.5 458.3,328.9 458.4,329.1 458.5,337.2 458.6,332.6 458.7,335.9 458.8,316.1 458.9,331.9 459.0,335.6 459.1,340.1 459.2,330.4 459.3,321.7 459.4,333.2 459.5,327.3 459.6,321.4 459.7,327.2 459.8,335.6 459.9,336.4 460.0,334.0 460.1,325.1 460.2,342.5 460.3,324.5 460.4,330.0 460.5,323.2 460.6,337.0 460.7,332.6 460.8,334.9 460.9,330.9 461.0,330.1 461.1,331.3 461.2,321.0 461.3,335.4 461.4,335.1 461.5,328.5 461.6,330.4 461.7,332.0 461.8,338.4 461.9,332.7 462.0,330.8 462.1,328.0 462.2,323.0 462.3,327.6 462.4,330.9 462.5,329.3 462.6,331.0 462.7,334.3 462.8,332.8 462.9,332.0 463.0,333.9 463.1,331.6 463.2,330.5 463.3,333.0 463.4,322.0 463.5,337.0 463.6,324.3 463.7,334.9 463.8,330.8 463.9,336.3 464.0,330.9 464.1,326.0 464.2,336.1 464.3,331.7 464.4,331.4 464.5,331.2 464.6,335.8 464.7,334.9 464.8,332.0 464.9,323.1 465.0,328.8 465.1,331.4 465.2,339.8 465.3,332.8 465.4,330.4 465.5,336.9 465.6,330.3 465.7,330.8 465.8,331.7 465.9,323.4 466.0,335.7 466.1,333.1 466.2,329.5 466.3,325.3 466.4,332.0 466.5,338.0 466.6,327.8 466.7,325.7 466.8,333.1 466.9,323.0 467.0,319.9 467.1,328.8 467.2,327.6 467.3,329.7 467.4,328.3 467.5,332.7 467.6,330.0 467.7,328.1 467.8,328.8 467.9,334.3 468.0,335.9 468.1,335.7 468.2,334.6 468.3,316.9 468.4,326.1 468.5,329.6 468.6,332.2 468.7,323.1 468.8,338.3 468.9,332.7 469.0,328.1 469.1,332.0 469.2,329.5 469.3,327.4 469.4,333.8 469.5,329.0 469.6,324.2 469.7,328.1 469.8,330.7 469.9,325.9 470.0,337.6 470.1,325.9 470.2,340.1 470.3,335.8 470.4,326.6 470.5,331.9 470.6,337.2 470.7,330.3 470.8,325.3 470.9,331.8 471.0,341.2 471.1,323.8 471.2,334.1 471.3,331.3 471.4,330.7 471.5,329.3 471.6,329.7 471.7,336.5 471.8,334.3 471.9,326.3 472.0,339.1 472.1,324.8 472.2,334.6 472.3,332.2 472.4,337.3 472.5,333.0 472.6,336.5 472.7,331.1 472.8,336.1 472.9,333.0 473.0,342.0 473.1,327.8 473.2,337.2 473.3,333.6 473.4,332.1 473.5,328.4 473.6,333.5 473.7,323.9 473.8,324.4 473.9,334.8 474.0,323.5 474.1,338.4 474.2,329.9 474.3,332.5 474.4,331.6 474.5,333.3 474.6,329.8 474.7,329.4 474.8,330.6 474.9,336.5 475.0,336.9 475.1,337.6 475.2,333.0 475.3,330.2 475.4,322.8 475.5,334.4 475.6,335.4 475.7,329.2 475.8,335.2 475.9,337.6 476.0,331.7 476.1,336.5 476.2,332.7 476.3,322.5 476.4,328.8 476.5,329.1 476.6,333.8 476.7,326.8 476.8,329.0 476.9,326.3 477.0,331.0 477.1,331.5 477.2,336.0 477.3,335.1 477.4,332.0 477.5,332.3 477.6,331.7 477.7,331.7 477.8,338.9 477.9,318.7 478.0,330.2 478.1,332.7 478.2,336.8 478.3,325.6 478.4,332.8 478.5,335.4 478.6,328.9 478.7,321.6 478.8,329.3 478.9,325.1 479.0,334.3 479.1,326.8 479.2,340.0 479.3,331.8 479.4,327.0 479.5,328.5 479.6,325.6 479.7,333.0 479.8,338.5 479.9,330.0 480.0,335.7 480.1,326.3 480.2,332.6 480.3,342.5 480.4,324.0 480.5,337.2 480.6,336.9 480.7,321.6 480.8,323.9 480.9,326.1 481.0,335.9 481.1,328.9 481.2,330.2 481.3,334.5 481.4,331.6 481.5,332.1 481.6,329.4 481.7,336.6 481.8,327.1 481.9,339.4 482.0,329.3 482.1,327.0 482.2,334.2 482.3,333.2 482.4,321.1 482.5,332.1 482.6,324.2 482.7,326.8 482.8,334.9 482.9,326.6 483.0,332.7 483.1,329.0 483.2,340.6 483.3,330.4 483.4,325.0 483.5,325.4 483.6,326.4 483.7,331.5 483.8,330.9 483.9,335.7 484.0,331.7 484.1,331.5 484.2,332.5 484.3,330.2 484.4,332.3 484.5,334.8 484.6,334.8 484.7,328.1 484.8,322.0 484.9,326.8 485.0,332.2 485.1,318.4 485.2,328.4 485.3,333.0 485.4,328.0 485.5,325.2 485.6,339.6 485.7,337.7 485.8,329.5 485.9,337.4 486.0,337.3 486.1,325.1 486.2,342.5 486.3,326.1 486.4,329.4 486.5,325.3 486.6,331.1 486.7,324.1 486.8,330.7 486.9,336.1 487.0,331.8 487.1,329.4 487.2,338.4 487.3,326.2 487.4,335.5 487.5,329.2 487.6,331.7 487.7,330.8 487.8,331.3 487.9,330.4 488.0,326.7 488.1,327.8 488.2,332.8 488.3,330.1 488.4,324.8 488.5,327.1 488.6,327.1 488.7,330.3 488.8,331.5 488.9,331.0 489.0,327.3 489.1,330.6 489.2,323.7 489.3,316.3 489.4,330.3 489.5,322.3 489.6,325.8 489.7,324.5 489.8,333.6 489.9,324.4 490.0,331.9 490.1,328.0 490.2,324.3 490.3,322.6 490.4,332.8 490.5,332.4 490.6,334.3 490.7,339.6 490.8,331.8 490.9,331.8 491.0,329.8 491.1,330.9 491.2,328.6 491.3,325.9 491.4,340.3 491.5,321.0 491.6,331.6 491.7,332.5 491.8,331.1 491.9,325.5 492.0,329.3 492.1,328.0 492.2,324.9 492.3,330.0 492.4,328.2 492.5,327.5 492.6,333.6 492.7,324.9 492.8,332.4 492.9,327.1 493.0,332.3 493.1,330.5 493.2,331.4 493.3,325.3 493.4,326.3 493.5,325.9 493.6,331.0 493.7,333.9 493.8,335.5 493.9,327.6 494.0,330.5 494.1,322.0 494.2,319.0 494.3,325.7 494.4,326.7 494.5,322.3 494.6,321.2 494.7,332.7 494.8,326.0 494.9,321.6 495.0,341.6 495.1,330.8 495.2,328.4 495.3,333.3 495.4,326.2 495.5,337.9 495.6,322.3 495.7,323.4 495.8,329.2 495.9,326.1 496.0,336.9 496.1,321.9 496.2,326.2 496.3,331.0 496.4,332.6 496.5,334.8 496.6,331.5 496.7,340.8 496.8,327.4 496.9,330.6 497.0,334.0 497.1,328.2 497.2,328.3 497.3,327.4 497.4,326.5 497.5,324.1 497.6,326.9 497.7,321.9 497.8,331.5 497.9,321.7 498.0,339.9 498.1,338.1 498.2,335.1 498.3,328.5 498.4,326.6 498.5,335.7 498.6,330.4 498.7,332.3 498.8,325.9 498.9,334.8 499.0,325.5 499.1,330.0 499.2,320.8 499.3,326.2 499.4,331.9 499.5,327.2 499.6,327.2 499.7,333.3 499.8,329.0 499.9,335.5 500.0,317.3 500.1,332.2 500.2,331.8 500.3,321.6 500.4,322.8 500.5,333.7 500.6,324.0 500.7,326.1 500.8,332.2 500.9,327.6 501.0,331.6 501.1,324.9 501.2,330.7 501.3,334.6 501.4,330.8 501.5,318.2 501.6,332.4 501.7,329.4 501.8,324.6 501.9,336.0 502.0,320.4 502.1,338.4 502.2,325.9 502.3,336.9 502.4,328.8 502.5,322.4 502.6,329.5 502.7,330.6 502.8,331.7 502.9,334.2 503.0,324.5 503.1,331.4 503.2,332.6 503.3,327.5 503.4,324.2 503.5,324.1 503.6,332.5 503.7,332.8 503.8,324.6 503.9,322.1 504.0,334.9 504.1,321.0 504.2,329.5 504.3,324.6 504.4,319.9 504.5,329.2 504.6,327.6 504.7,335.7 504.8,339.8 504.9,327.6 505.0,333.6 505.1,333.6 505.2,325.8 505.3,324.1 505.4,336.4 505.5,326.5 505.6,328.2 505.7,326.8 505.8,327.6 505.9,325.2 506.0,331.9 506.1,334.4 506.2,326.3 506.3,321.2 506.4,328.3 506.5,320.6 506.6,324.8 506.7,334.1 506.8,339.5 506.9,329.7 507.0,322.5 507.1,331.7 507.2,316.6 507.3,324.3 507.4,335.2 507.5,331.3 507.6,320.7 507.7,319.3 507.8,331.8 507.9,327.2 508.0,324.5 508.1,329.4 508.2,324.5 508.3,317.7 508.4,331.2 508.5,323.9 508.6,322.1 508.7,320.4 508.8,328.3 508.9,323.0 509.0,330.0 509.1,325.5 509.2,332.2 509.3,324.8 509.4,323.4 509.5,316.8 509.6,321.1 509.7,330.1 509.8,340.7 509.9,320.2 510.0,321.2 510.1,328.0 510.2,328.6 510.3,322.8 510.4,326.5 510.5,318.0 510.6,324.5 510.7,330.4 510.8,333.9 510.9,324.9 511.0,324.4 511.1,327.9 511.2,331.0 511.3,327.9 511.4,321.6 511.5,327.1 511.6,330.0 511.7,321.6 511.8,318.4 511.9,327.5 512.0,326.7 512.1,329.6 512.2,325.2 512.3,321.4 512.4,322.4 512.5,319.4 512.6,319.7 512.7,321.5 512.8,321.8 512.9,329.7 513.0,317.9 513.1,323.7 513.2,320.9 513.3,331.2 513.4,325.0 513.5,321.7 513.6,327.5 513.7,323.7 513.8,320.9 513.9,330.8 514.0,326.6 514.1,331.5 514.2,328.6 514.3,326.6 514.4,323.3 514.5,317.1 514.6,325.9 514.7,322.7 514.8,325.5 514.9,322.0 515.0,318.5 515.1,316.8 515.2,325.2 515.3,328.0 515.4,320.0 515.5,323.6 515.6,328.1 515.7,317.0 515.8,319.3 515.9,315.3 516.0,326.6 516.1,321.9 516.2,318.2 516.3,312.1 516.4,319.3 516.5,325.0 516.6,318.4 516.7,317.7 516.8,322.8 516.9,313.4 517.0,319.6 517.1,322.2 517.2,315.2 517.3,314.8 517.4,320.0 517.5,318.1 517.6,317.3 517.7,319.4 517.8,319.3 517.9,313.4 518.0,314.6 518.1,319.9 518.2,323.1 518.3,324.1 518.4,313.0 518.5,322.5 518.6,320.7 518.7,316.6 518.8,319.0 518.9,320.5 519.0,325.1 519.1,310.8 519.2,318.9 519.3,315.0 519.4,314.5 519.5,321.1 519.6,319.3 519.7,310.0 519.8,313.5 519.9,315.8 520.0,307.5 520.1,318.6 520.2,313.8 520.3,314.8 520.4,315.4 520.5,322.5 520.6,313.6 520.7,311.4 520.8,321.6 520.9,310.4 521.0,310.0 521.1,305.6 521.2,317.6 521.3,313.4 521.4,314.2 521.5,312.5 521.6,310.8 521.7,307.4 521.8,307.2 521.9,313.0 522.0,311.3 522.1,318.6 522.2,306.5 522.3,307.7 522.4,304.8 522.5,316.5 522.6,303.4 522.7,313.1 522.8,316.2 522.9,308.1 523.0,312.2 523.1,297.9 523.2,306.3 523.3,299.8 523.4,308.6 523.5,307.6 523.6,303.6 523.7,311.8 523.8,308.7 523.9,304.1 524.0,304.0 524.1,299.0 524.2,305.2 524.3,316.3 524.4,302.1 524.5,307.5 524.6,302.5 524.7,309.0 524.8,307.0 524.9,303.4 525.0,295.5 525.1,301.6 525.2,309.8 525.3,302.5 525.4,306.6 525.5,300.9 525.6,293.8 525.7,304.9 525.8,304.2 525.9,299.5 526.0,300.3 526.1,303.4 526.2,298.8 526.3,303.2 526.4,300.3 526.5,289.4 526.6,300.1 526.7,297.7 526.8,296.3 526.9,302.2 527.0,297.6 527.1,302.4 527.2,305.0 527.3,300.0 527.4,291.5 527.5,295.3 527.6,303.2 527.7,297.2 527.8,294.3 527.9,297.6 528.0,300.3 528.1,298.9 528.2,300.6 528.3,293.1 528.4,295.6 528.5,295.5 528.6,296.5 528.7,286.0 528.8,295.0 528.9,289.3 529.0,302.6 529.1,303.2 529.2,303.7 529.3,299.2 529.4,292.6 529.5,299.5 529.6,293.6 529.7,297.4 529.8,289.7 529.9,291.1 530.0,296.1 530.1,302.4 530.2,293.3 530.3,304.4 530.4,306.6 530.5,286.5 530.6,292.5 530.7,287.8 530.8,291.6 530.9,289.5 531.0,291.6 531.1,296.5 531.2,296.2 531.3,292.7 531.4,291.3 531.5,291.7 531.6,291.5 531.7,293.6 531.8,290.6 531.9,292.9 532.0,283.8 532.1,294.0 532.2,298.6 532.3,290.7 532.4,282.6 532.5,296.2 532.6,287.7 532.7,275.3 532.8,288.0 532.9,291.9 533.0,290.7 533.1,294.7 533.2,291.5 533.3,289.0 533.4,278.4 533.5,282.6 533.6,288.8 533.7,291.2 533.8,282.6 533.9,284.6 534.0,289.8 534.1,277.9 534.2,277.6 534.3,286.0 534.4,288.3 534.5,284.6 534.6,275.5 534.7,286.8 534.8,280.0 534.9,289.8 535.0,285.9 535.1,287.7 535.2,289.4 535.3,283.6 535.4,290.2 535.5,292.2 535.6,287.9 535.7,292.4 535.8,282.7 535.9,290.3 536.0,287.0 536.1,280.7 536.2,285.1 536.3,282.8 536.4,282.7 536.5,285.8 536.6,290.6 536.7,283.7 536.8,285.8 536.9,277.9 537.0,285.7 537.1,290.8 537.2,289.1 537.3,287.4 537.4,282.4 537.5,280.2 537.6,284.5 537.7,278.3 537.8,278.8 537.9,289.6 538.0,280.4 538.1,293.8 538.2,277.8 538.3,287.1 538.4,279.1 538.5,285.8 538.6,279.8 538.7,285.2 538.8,284.2 538.9,282.7 539.0,287.5 539.1,292.5 539.2,282.1 539.3,289.5 539.4,285.5 539.5,285.0 539.6,296.0 539.7,274.5 539.8,281.9 539.9,276.3 540.0,283.8 540.1,284.3 540.2,299.5 540.3,287.2 540.4,294.5 540.5,292.1 540.6,283.5 540.7,288.2 540.8,294.1 540.9,286.8 541.0,287.0 541.1,288.6 541.2,278.7 541.3,282.2 541.4,288.0 541.5,289.1 541.6,282.0 541.7,285.0 541.8,286.1 541.9,286.1 542.0,290.4 542.1,287.6 542.2,288.0 542.3,280.2 542.4,282.1 542.5,289.1 542.6,279.7 542.7,289.0 542.8,284.6 542.9,283.9 543.0,291.3 543.1,284.9 543.2,284.1 543.3,285.1 543.4,288.9 543.5,302.4 543.6,278.4 543.7,288.9 543.8,288.0 543.9,294.0 544.0,287.6 544.1,277.4 544.2,296.3 544.3,284.5 544.4,289.8 544.5,283.4 544.6,285.0 544.7,288.1 544.8,295.0 544.9,295.1 545.0,288.1 545.1,293.7 545.2,289.5 545.3,292.1 545.4,292.5 545.5,295.0 545.6,289.0 545.7,291.6 545.8,293.5 545.9,293.1 546.0,288.9 546.1,301.6 546.2,290.9 546.3,297.2 546.4,294.6 546.5,299.8 546.6,283.1 546.7,304.3 546.8,293.3 546.9,288.4 547.0,295.4 547.1,306.2 547.2,297.7 547.3,289.2 547.4,293.3 547.5,302.4 547.6,289.0 547.7,295.3 547.8,294.9 547.9,307.4 548.0,295.4 548.1,303.5 548.2,293.9 548.3,293.4 548.4,302.6 548.5,301.0 548.6,289.5 548.7,301.5 548.8,301.7 548.9,295.7 549.0,300.0 549.1,300.5 549.2,297.0 549.3,296.7 549.4,296.5 549.5,298.7 549.6,293.6 549.7,300.3 549.8,293.3 549.9,301.3 550.0,300.7 550.1,296.2 550.2,305.8 550.3,311.4 550.4,308.6 550.5,295.5 550.6,308.8 550.7,303.8 550.8,302.6 550.9,300.2 551.0,303.3 551.1,310.5 551.2,306.5 551.3,302.0 551.4,300.9 551.5,302.4 551.6,307.6 551.7,314.2 551.8,299.9 551.9,305.3 552.0,303.6 552.1,302.0 552.2,308.0 552.3,308.9 552.4,299.4 552.5,301.5 552.6,312.8 552.7,308.7 552.8,309.9 552.9,305.0 553.0,305.9 553.1,310.2 553.2,305.7 553.3,302.9 553.4,308.6 553.5,313.3 553.6,303.9 553.7,314.5 553.8,312.9 553.9,305.4 554.0,309.9 554.1,309.9 554.2,313.4 554.3,313.8 554.4,304.2 554.5,304.2 554.6,316.2 554.7,311.9 554.8,313.6 554.9,313.4 555.0,319.5 555.1,306.1 555.2,317.7 555.3,308.5 555.4,316.3 555.5,319.5 555.6,306.3 555.7,315.3 555.8,312.1 555.9,312.2 556.0,314.1 556.1,308.9 556.2,309.5 556.3,317.7 556.4,318.8 556.5,312.0 556.6,307.8 556.7,326.6 556.8,320.8 556.9,317.3 557.0,310.6 557.1,313.0 557.2,317.3 557.3,311.5 557.4,324.4 557.5,317.3 557.6,318.7 557.7,311.9 557.8,312.6 557.9,313.4 558.0,318.8 558.1,316.3 558.2,316.4 558.3,319.5 558.4,319.2 558.5,325.6 558.6,317.5 558.7,313.6 558.8,318.7 558.9,326.1 559.0,316.3 559.1,319.5 559.2,317.6 559.3,321.5 559.4,320.9 559.5,315.8 559.6,318.9 559.7,324.8 559.8,325.7 559.9,325.0 560.0,324.8 560.1,319.1 560.2,319.0 560.3,325.5 560.4,315.3 560.5,321.0 560.6,312.2 560.7,319.6 560.8,318.2 560.9,315.9 561.0,324.8 561.1,318.4 561.2,320.4 561.3,321.0 561.4,318.8 561.5,329.5 561.6,320.2 561.7,323.7 561.8,316.5 561.9,320.7 562.0,321.5 562.1,321.7 562.2,320.5 562.3,324.2 562.4,331.2 562.5,323.0 562.6,323.1 562.7,322.0 562.8,336.5 562.9,332.0 563.0,327.0 563.1,327.8 563.2,320.9 563.3,323.8 563.4,325.7 563.5,325.3 563.6,320.6 563.7,321.1 563.8,327.6 563.9,326.7 564.0,314.9 564.1,325.8 564.2,331.6 564.3,322.3 564.4,326.7 564.5,318.5 564.6,329.8 564.7,320.4 564.8,319.8 564.9,324.4 565.0,337.7 565.1,323.2 565.2,320.0 565.3,328.6 565.4,327.5 565.5,334.6 565.6,320.3 565.7,318.8 565.8,325.1 565.9,328.6 566.0,328.6 566.1,332.2 566.2,319.7 566.3,323.0 566.4,326.5 566.5,331.3 566.6,329.6 566.7,325.2 566.8,322.4 566.9,331.8 567.0,332.2 567.1,340.9 567.2,326.7 567.3,335.6 567.4,321.8 567.5,325.1 567.6,324.5 567.7,325.6 567.8,323.7 567.9,325.4 568.0,327.8 568.1,325.9 568.2,331.4 568.3,327.8 568.4,328.3 568.5,335.5 568.6,329.9 568.7,329.2 568.8,328.4 568.9,328.8 569.0,331.4 569.1,324.7 569.2,334.3 569.3,336.4 569.4,334.4 569.5,326.4 569.6,321.0 569.7,326.7 569.8,329.7 569.9,333.0 570.0,328.1 570.1,327.5 570.2,336.5 570.3,325.8 570.4,334.4 570.5,333.6 570.6,322.7 570.7,330.6 570.8,326.5 570.9,324.7 571.0,320.3 571.1,321.7 571.2,331.4 571.3,327.5 571.4,330.8 571.5,324.3 571.6,328.0 571.7,328.2 571.8,322.0 571.9,321.5 572.0,331.8 572.1,330.4 572.2,325.1 572.3,329.2 572.4,333.0 572.5,338.7 572.6,325.4 572.7,332.8 572.8,340.2 572.9,330.2 573.0,337.1 573.1,317.2 573.2,337.0 573.3,329.9 573.4,320.8 573.5,333.8 573.6,335.2 573.7,336.0 573.8,335.9 573.9,329.9 574.0,326.4 574.1,327.9 574.2,330.0 574.3,332.1 574.4,327.8 574.5,330.4 574.6,334.5 574.7,331.8 574.8,341.5 574.9,340.8 575.0,324.6 575.1,327.5 575.2,323.9 575.3,324.6 575.4,333.0 575.5,325.5 575.6,325.2 575.7,329.1 575.8,334.3 575.9,328.7 576.0,328.7 576.1,334.9 576.2,332.8 576.3,332.7 576.4,335.1 576.5,325.5 576.6,331.5 576.7,327.4 576.8,335.6 576.9,334.5 577.0,325.4 577.1,337.1 577.2,324.8 577.3,336.3 577.4,331.6 577.5,326.3 577.6,325.1 577.7,329.1 577.8,330.5 577.9,327.1 578.0,333.4 578.1,323.8 578.2,330.6 578.3,330.7 578.4,321.5 578.5,332.2 578.6,324.5 578.7,318.4 578.8,327.7 578.9,329.6 579.0,335.2 579.1,328.3 579.2,338.0 579.3,337.8 579.4,336.1 579.5,337.3 579.6,332.5 579.7,328.0 579.8,334.0 579.9,335.5 580.0,332.0 580.1,329.6 580.2,323.1 580.3,334.1 580.4,332.5 580.5,324.4 580.6,331.3 580.7,334.4 580.8,330.3 580.9,334.7 581.0,334.6 581.1,323.6 581.2,329.4 581.3,333.2 581.4,335.4 581.5,337.8 581.6,321.4 581.7,330.5 581.8,334.4 581.9,336.9 582.0,339.2 582.1,326.3 582.2,329.1 582.3,325.7 582.4,334.9 582.5,324.4 582.6,336.8 582.7,335.5 582.8,333.3 582.9,320.2 583.0,327.6 583.1,334.6 583.2,323.9 583.3,329.8 583.4,330.4 583.5,335.3 583.6,332.3 583.7,332.3 583.8,328.8 583.9,331.0 584.0,330.3 584.1,334.6 584.2,330.1 584.3,336.1 584.4,322.6 584.5,336.9 584.6,330.1 584.7,336.5 584.8,331.4 584.9,335.2 585.0,338.4 585.1,328.2 585.2,331.4 585.3,330.2 585.4,332.0 585.5,323.0 585.6,330.2 585.7,329.8 585.8,327.1 585.9,330.0 586.0,323.4 586.1,337.9 586.2,333.2 586.3,340.3 586.4,326.7 586.5,325.3 586.6,332.4 586.7,322.8 586.8,332.1 586.9,327.5 587.0,329.4 587.1,332.3 587.2,331.3 587.3,340.2 587.4,334.2 587.5,324.6 587.6,335.9 587.7,324.4 587.8,331.5 587.9,324.9 588.0,326.9 588.1,337.5 588.2,328.3 588.3,327.9 588.4,328.3 588.5,329.5 588.6,338.2 588.7,325.2 588.8,324.9 588.9,333.9 589.0,323.2 589.1,329.2 589.2,336.6 589.3,331.1 589.4,328.7 589.5,327.5 589.6,326.5 589.7,328.1 589.8,331.7 589.9,337.2 590.0,335.8 590.1,328.2 590.2,327.4 590.3,334.5 590.4,322.1 590.5,328.9 590.6,329.4 590.7,325.5 590.8,326.1 590.9,332.7 591.0,322.9 591.1,326.5 591.2,327.8 591.3,331.4 591.4,324.2 591.5,336.4 591.6,329.5 591.7,329.7 591.8,329.2 591.9,327.7 592.0,326.2 592.1,336.7 592.2,332.0 592.3,330.4 592.4,335.9 592.5,327.5 592.6,334.1 592.7,331.1 592.8,326.6 592.9,334.7 593.0,323.6 593.1,334.2 593.2,326.6 593.3,333.0 593.4,337.8 593.5,333.8 593.6,328.0 593.7,330.8 593.8,329.1 593.9,325.2 594.0,325.5 594.1,331.2 594.2,333.6 594.3,322.3 594.4,330.6 594.5,333.4 594.6,331.5 594.7,326.0 594.8,336.0 594.9,324.9 595.0,334.1 595.1,338.8 595.2,320.9 595.3,332.2 595.4,332.5 595.5,332.0 595.6,327.1 595.7,329.4 595.8,324.0 595.9,331.6 596.0,333.5 596.1,327.6 596.2,326.4 596.3,328.6 596.4,330.9 596.5,331.2 596.6,330.4 596.7,331.2 596.8,324.5 596.9,317.5 597.0,333.9 597.1,337.9 597.2,323.9 597.3,327.6 597.4,332.4 597.5,335.6 597.6,334.1 597.7,337.2 597.8,330.6 597.9,332.9 598.0,332.9 598.1,328.8 598.2,336.8 598.3,334.0 598.4,335.7 598.5,329.0 598.6,336.0 598.7,325.7 598.8,332.8 598.9,318.1 599.0,326.0 599.1,334.5 599.2,328.7 599.3,331.8 599.4,323.0 599.5,338.5 599.6,333.8 599.7,330.8 599.8,332.9 599.9,332.5 600.0,337.8 600.1,332.0 600.2,323.7 600.3,329.7 600.4,337.2 600.5,333.7 600.6,328.9 600.7,333.9 600.8,331.5 600.9,333.9 601.0,323.2 601.1,326.5 601.2,334.2 601.3,329.8 601.4,332.7 601.5,340.5 601.6,329.4 601.7,332.1 601.8,328.2 601.9,327.9 602.0,330.6 602.1,323.8 602.2,320.7 602.3,337.6 602.4,330.4 602.5,336.4 602.6,331.5 602.7,331.7 602.8,334.2 602.9,334.5 603.0,325.1 603.1,336.9 603.2,326.2 603.3,332.0 603.4,342.5 603.5,331.4 603.6,339.1 603.7,329.3 603.8,334.0 603.9,331.2 604.0,333.0 604.1,326.8 604.2,326.5 604.3,332.6 604.4,323.3 604.5,326.9 604.6,334.1 604.7,328.0 604.8,326.6 604.9,325.6 605.0,331.7 605.1,329.2 605.2,331.7 605.3,330.1 605.4,340.0 605.5,328.9 605.6,321.4 605.7,331.6 605.8,331.0 605.9,331.8" fill="none" stroke="#0a2cc8" stroke-width="0.6"/>
<polyline points="430.0,319.1 430.1,309.5 430.2,312.9 430.3,306.4 430.4,308.7 430.5,300.0 430.6,308.4 430.7,314.5 430.8,319.1 430.9,314.6 431.0,312.0 431.1,308.9 431.2,305.6 431.3,307.8 431.4,311.7 431.5,304.7 431.6,313.3 431.7,303.8 431.8,299.8 431.9,303.6 432.0,300.4 432.1,301.9 432.2,314.4 432.3,307.7 432.4,309.8 432.5,314.5 432.6,315.1 432.7,306.3 432.8,315.4 432.9,310.7 433.0,308.8 433.1,311.0 433.2,301.7 433.3,304.9 433.4,308.3 433.5,311.9 433.6,307.0 433.7,308.2 433.8,313.7 433.9,316.0 434.0,312.7 434.1,315.3 434.2,306.9 434.3,307.4 434.4,310.5 434.5,307.5 434.6,306.4 434.7,317.2 434.8,308.0 434.9,304.2 435.0,311.4 435.1,318.2 435.2,309.4 435.3,315.2 435.4,306.9 435.5,306.6 435.6,305.6 435.7,308.4 435.8,318.3 435.9,303.3 436.0,317.3 436.1,304.1 436.2,308.0 436.3,313.3 436.4,312.3 436.5,310.6 436.6,300.9 436.7,311.0 436.8,304.1 436.9,322.1 437.0,308.2 437.1,310.2 437.2,303.5 437.3,306.9 437.4,302.8 437.5,314.2 437.6,308.0 437.7,312.1 437.8,305.9 437.9,306.8 438.0,315.8 438.1,304.5 438.2,300.3 438.3,311.4 438.4,303.7 438.5,307.2 438.6,313.9 438.7,305.3 438.8,313.8 438.9,306.0 439.0,316.9 439.1,316.1 439.2,307.1 439.3,308.4 439.4,305.3 439.5,310.5 439.6,315.2 439.7,302.3 439.8,314.1 439.9,302.9 440.0,305.2 440.1,300.6 440.2,320.1 440.3,309.8 440.4,310.8 440.5,306.2 440.6,314.9 440.7,299.1 440.8,309.7 440.9,320.7 441.0,307.7 441.1,309.7 441.2,313.0 441.3,305.6 441.4,309.8 441.5,314.5 441.6,310.7 441.7,311.6 441.8,308.0 441.9,311.3 442.0,310.0 442.1,317.0 442.2,313.4 442.3,308.5 442.4,297.5 442.5,313.4 442.6,313.6 442.7,305.2 442.8,299.8 442.9,304.1 443.0,314.5 443.1,304.5 443.2,307.6 443.3,311.0 443.4,316.0 443.5,309.8 443.6,309.4 443.7,307.2 443.8,318.1 443.9,315.3 444.0,309.5 444.1,303.0 444.2,306.0 444.3,312.9 444.4,306.4 444.5,314.4 444.6,311.8 444.7,311.5 444.8,313.3 444.9,312.5 445.0,305.8 445.1,308.4 445.2,321.8 445.3,304.0 445.4,307.7 445.5,315.4 445.6,309.3 445.7,306.0 445.8,303.5 445.9,312.8 446.0,315.2 446.1,317.1 446.2,310.4 446.3,315.4 446.4,305.0 446.5,311.0 446.6,306.8 446.7,311.1 446.8,314.0 446.9,315.6 447.0,305.3 447.1,316.6 447.2,307.9 447.3,305.1 447.4,309.4 447.5,303.0 447.6,310.3 447.7,311.8 447.8,309.3 447.9,313.0 448.0,308.8 448.1,310.4 448.2,303.2 448.3,310.6 448.4,306.1 448.5,308.1 448.6,309.9 448.7,311.4 448.8,302.2 448.9,302.6 449.0,308.9 449.1,312.8 449.2,312.3 449.3,314.9 449.4,317.0 449.5,313.0 449.6,310.4 449.7,305.4 449.8,305.8 449.9,308.2 450.0,311.9 450.1,311.7 450.2,310.6 450.3,309.8 450.4,313.7 450.5,311.6 450.6,312.1 450.7,312.2 450.8,307.9 450.9,305.5 451.0,313.1 451.1,312.7 451.2,309.6 451.3,308.6 451.4,322.1 451.5,306.9 451.6,309.6 451.7,312.1 451.8,305.0 451.9,311.3 452.0,319.7 452.1,315.4 452.2,313.9 452.3,313.7 452.4,311.4 452.5,315.6 452.6,310.0 452.7,308.7 452.8,311.3 452.9,315.4 453.0,312.5 453.1,314.2 453.2,300.8 453.3,316.9 453.4,322.6 453.5,317.6 453.6,309.3 453.7,306.7 453.8,312.3 453.9,306.0 454.0,314.6 454.1,308.3 454.2,315.8 454.3,317.8 454.4,300.8 454.5,312.5 454.6,307.5 454.7,304.0 454.8,308.0 454.9,310.0 455.0,316.2 455.1,303.5 455.2,316.3 455.3,321.2 455.4,314.1 455.5,313.8 455.6,311.1 455.7,305.3 455.8,313.8 455.9,313.1 456.0,314.8 456.1,324.0 456.2,314.8 456.3,313.3 456.4,319.0 456.5,304.5 456.6,305.5 456.7,309.4 456.8,308.0 456.9,314.7 457.0,309.7 457.1,320.0 457.2,318.9 457.3,315.1 457.4,309.4 457.5,314.4 457.6,315.4 457.7,306.0 457.8,313.1 457.9,314.9 458.0,312.5 458.1,319.2 458.2,317.5 458.3,307.3 458.4,312.0 458.5,307.2 458.6,314.3 458.7,307.1 458.8,316.1 458.9,313.4 459.0,316.3 459.1,310.8 459.2,304.2 459.3,320.3 459.4,310.6 459.5,318.4 459.6,313.7 459.7,314.9 459.8,320.7 459.9,313.3 460.0,318.6 460.1,304.2 460.2,315.9 460.3,310.4 460.4,310.9 460.5,311.7 460.6,313.4 460.7,319.9 460.8,302.4 460.9,311.9 461.0,308.1 461.1,317.5 461.2,309.6 461.3,314.0 461.4,309.7 461.5,315.1 461.6,316.8 461.7,309.8 461.8,312.0 461.9,304.7 462.0,313.3 462.1,316.1 462.2,309.0 462.3,317.4 462.4,301.4 462.5,302.6 462.6,304.9 462.7,309.4 462.8,311.9 462.9,311.5 463.0,311.5 463.1,315.5 463.2,309.5 463.3,305.6 463.4,305.7 463.5,322.5 463.6,300.2 463.7,311.1 463.8,319.2 463.9,314.4 464.0,307.8 464.1,312.0 464.2,316.3 464.3,318.0 464.4,307.5 464.5,315.8 464.6,313.3 464.7,317.6 464.8,319.0 464.9,310.3 465.0,304.8 465.1,314.1 465.2,321.0 465.3,315.5 465.4,313.3 465.5,324.1 465.6,306.9 465.7,316.7 465.8,309.3 465.9,312.4 466.0,312.6 466.1,319.8 466.2,307.5 466.3,309.5 466.4,304.2 466.5,314.7 466.6,309.9 466.7,314.4 466.8,306.9 466.9,310.5 467.0,317.5 467.1,311.4 467.2,315.4 467.3,314.9 467.4,310.5 467.5,304.5 467.6,317.3 467.7,313.2 467.8,317.3 467.9,302.3 468.0,304.1 468.1,301.7 468.2,308.0 468.3,317.6 468.4,315.2 468.5,312.2 468.6,313.1 468.7,316.2 468.8,310.9 468.9,314.4 469.0,313.2 469.1,301.5 469.2,310.6 469.3,319.3 469.4,310.5 469.5,311.8 469.6,309.5 469.7,310.1 469.8,318.2 469.9,311.2 470.0,307.4 470.1,298.5 470.2,309.7 470.3,302.7 470.4,303.4 470.5,316.5 470.6,316.1 470.7,302.9 470.8,316.8 470.9,314.8 471.0,308.6 471.1,316.1 471.2,304.3 471.3,306.4 471.4,305.3 471.5,306.9 471.6,316.8 471.7,305.8 471.8,306.7 471.9,307.7 472.0,313.4 472.1,310.7 472.2,316.7 472.3,308.8 472.4,305.9 472.5,309.9 472.6,312.5 472.7,307.7 472.8,313.7 472.9,321.4 473.0,309.4 473.1,312.5 473.2,319.0 473.3,309.0 473.4,308.0 473.5,306.8 473.6,314.2 473.7,314.8 473.8,311.5 473.9,312.4 474.0,318.5 474.1,316.5 474.2,305.1 474.3,312.1 474.4,312.6 474.5,315.7 474.6,311.0 474.7,308.8 474.8,309.8 474.9,303.1 475.0,311.9 475.1,309.0 475.2,314.3 475.3,306.9 475.4,309.8 475.5,307.1 475.6,306.6 475.7,315.4 475.8,309.6 475.9,314.1 476.0,306.3 476.1,312.4 476.2,303.4 476.3,309.4 476.4,309.3 476.5,314.7 476.6,312.7 476.7,310.9 476.8,316.0 476.9,312.7 477.0,314.4 477.1,315.6 477.2,311.4 477.3,310.2 477.4,313.3 477.5,309.6 477.6,313.6 477.7,317.2 477.8,315.9 477.9,309.7 478.0,305.2 478.1,311.3 478.2,310.9 478.3,317.1 478.4,309.6 478.5,310.5 478.6,315.2 478.7,309.1 478.8,310.7 478.9,320.0 479.0,318.9 479.1,314.6 479.2,312.7 479.3,306.6 479.4,314.2 479.5,311.7 479.6,312.4 479.7,308.7 479.8,311.3 479.9,310.4 480.0,312.9 480.1,318.4 480.2,313.0 480.3,302.9 480.4,306.4 480.5,303.3 480.6,307.2 480.7,313.9 480.8,313.1 480.9,308.1 481.0,312.4 481.1,307.3 481.2,304.0 481.3,304.0 481.4,306.7 481.5,318.1 481.6,304.3 481.7,317.1 481.8,317.5 481.9,310.0 482.0,310.6 482.1,307.8 482.2,310.7 482.3,314.1 482.4,310.8 482.5,315.7 482.6,316.6 482.7,312.4 482.8,312.3 482.9,310.3 483.0,312.3 483.1,305.0 483.2,312.6 483.3,311.6 483.4,306.2 483.5,321.2 483.6,305.6 483.7,306.1 483.8,311.8 483.9,300.7 484.0,306.4 484.1,302.7 484.2,305.4 484.3,309.6 484.4,311.8 484.5,315.7 484.6,314.1 484.7,316.0 484.8,313.0 484.9,307.7 485.0,315.6 485.1,307.5 485.2,306.8 485.3,317.5 485.4,313.8 485.5,310.9 485.6,313.5 485.7,314.1 485.8,302.9 485.9,309.2 486.0,303.7 486.1,310.2 486.2,306.2 486.3,316.3 486.4,312.0 486.5,305.3 486.6,309.3 486.7,303.3 486.8,309.5 486.9,311.9 487.0,310.5 487.1,299.5 487.2,307.4 487.3,311.6 487.4,310.5 487.5,314.7 487.6,302.4 487.7,311.4 487.8,305.5 487.9,309.7 488.0,310.7 488.1,312.0 488.2,305.7 488.3,309.4 488.4,302.6 488.5,301.3 488.6,311.1 488.7,308.0 488.8,300.1 488.9,303.9 489.0,308.2 489.1,315.8 489.2,313.2 489.3,311.9 489.4,298.9 489.5,307.3 489.6,310.1 489.7,309.6 489.8,309.6 489.9,306.3 490.0,316.2 490.1,314.7 490.2,306.8 490.3,302.3 490.4,317.4 490.5,304.3 490.6,313.0 490.7,316.5 490.8,302.1 490.9,308.2 491.0,305.0 491.1,309.2 491.2,308.2 491.3,316.2 491.4,309.4 491.5,306.3 491.6,311.9 491.7,304.8 491.8,304.3 491.9,317.2 492.0,301.8 492.1,303.4 492.2,306.0 492.3,300.4 492.4,295.0 492.5,310.8 492.6,301.5 492.7,302.6 492.8,303.4 492.9,300.2 493.0,299.7 493.1,305.7 493.2,316.8 493.3,308.4 493.4,308.4 493.5,297.0 493.6,304.3 493.7,298.4 493.8,308.1 493.9,303.0 494.0,304.2 494.1,303.4 494.2,300.9 494.3,296.1 494.4,306.4 494.5,296.5 494.6,297.4 494.7,301.7 494.8,299.6 494.9,304.3 495.0,307.9 495.1,304.0 495.2,303.6 495.3,302.6 495.4,306.6 495.5,293.0 495.6,303.9 495.7,297.3 495.8,295.6 495.9,301.7 496.0,299.6 496.1,304.3 496.2,306.8 496.3,289.5 496.4,300.6 496.5,310.6 496.6,305.0 496.7,307.8 496.8,300.9 496.9,293.1 497.0,294.5 497.1,303.5 497.2,304.6 497.3,296.0 497.4,298.1 497.5,300.6 497.6,290.4 497.7,297.2 497.8,306.9 497.9,309.6 498.0,298.0 498.1,307.5 498.2,295.5 498.3,293.9 498.4,286.6 498.5,302.4 498.6,295.6 498.7,309.0 498.8,298.8 498.9,297.9 499.0,287.7 499.1,304.1 499.2,294.6 499.3,295.4 499.4,285.0 499.5,300.4 499.6,300.6 499.7,292.4 499.8,295.7 499.9,297.0 500.0,299.6 500.1,295.1 500.2,303.0 500.3,293.0 500.4,291.0 500.5,291.5 500.6,280.9 500.7,289.4 500.8,298.2 500.9,294.3 501.0,288.7 501.1,294.3 501.2,282.2 501.3,290.7 501.4,294.5 501.5,295.1 501.6,287.5 501.7,295.8 501.8,300.3 501.9,288.6 502.0,294.2 502.1,282.5 502.2,280.2 502.3,292.9 502.4,289.8 502.5,290.3 502.6,286.2 502.7,287.4 502.8,292.6 502.9,296.9 503.0,287.0 503.1,279.6 503.2,294.0 503.3,290.4 503.4,290.5 503.5,287.7 503.6,298.2 503.7,286.7 503.8,288.6 503.9,276.5 504.0,282.6 504.1,281.8 504.2,284.8 504.3,286.5 504.4,280.7 504.5,292.8 504.6,278.6 504.7,281.4 504.8,284.6 504.9,276.8 505.0,285.7 505.1,285.7 505.2,280.8 505.3,291.5 505.4,282.1 505.5,282.8 505.6,276.3 505.7,272.5 505.8,277.4 505.9,278.6 506.0,277.7 506.1,283.5 506.2,267.4 506.3,273.4 506.4,269.7 506.5,285.2 506.6,275.4 506.7,275.3 506.8,272.1 506.9,281.8 507.0,274.9 507.1,277.8 507.2,266.2 507.3,282.0 507.4,277.8 507.5,278.2 507.6,281.4 507.7,273.9 507.8,273.7 507.9,277.8 508.0,276.1 508.1,272.4 508.2,273.5 508.3,270.5 508.4,276.3 508.5,277.1 508.6,272.1 508.7,281.2 508.8,263.7 508.9,270.0 509.0,279.4 509.1,268.4 509.2,262.2 509.3,276.8 509.4,272.3 509.5,263.2 509.6,272.8 509.7,263.5 509.8,261.5 509.9,267.2 510.0,265.2 510.1,261.8 510.2,265.1 510.3,261.6 510.4,266.6 510.5,265.9 510.6,269.4 510.7,263.1 510.8,258.4 510.9,258.1 511.0,263.2 511.1,271.8 511.2,268.0 511.3,260.2 511.4,267.8 511.5,257.0 511.6,267.6 511.7,260.2 511.8,265.7 511.9,264.6 512.0,259.8 512.1,262.5 512.2,255.2 512.3,259.9 512.4,265.4 512.5,273.9 512.6,262.8 512.7,259.4 512.8,253.6 512.9,263.7 513.0,249.7 513.1,253.7 513.2,259.2 513.3,251.1 513.4,264.5 513.5,262.0 513.6,253.3 513.7,253.1 513.8,249.0 513.9,248.3 514.0,257.2 514.1,257.8 514.2,256.1 514.3,255.4 514.4,251.0 514.5,255.3 514.6,245.8 514.7,252.9 514.8,260.0 514.9,258.9 515.0,249.7 515.1,250.0 515.2,258.3 515.3,260.1 515.4,243.3 515.5,248.4 515.6,251.5 515.7,256.1 515.8,245.5 515.9,252.7 516.0,247.7 516.1,260.8 516.2,250.8 516.3,247.7 516.4,246.4 516.5,253.1 516.6,251.0 516.7,241.9 516.8,248.2 516.9,240.1 517.0,242.8 517.1,239.8 517.2,239.4 517.3,242.4 517.4,240.6 517.5,248.0 517.6,249.1 517.7,243.6 517.8,239.0 517.9,248.4 518.0,234.0 518.1,234.2 518.2,247.3 518.3,246.8 518.4,248.1 518.5,241.9 518.6,236.5 518.7,240.0 518.8,245.2 518.9,238.3 519.0,238.4 519.1,234.8 519.2,235.7 519.3,245.6 519.4,243.5 519.5,235.2 519.6,235.4 519.7,237.8 519.8,243.2 519.9,234.4 520.0,239.2 520.1,229.1 520.2,233.4 520.3,241.7 520.4,243.9 520.5,233.4 520.6,235.2 520.7,242.9 520.8,236.8 520.9,235.9 521.0,241.1 521.1,239.3 521.2,243.8 521.3,242.1 521.4,235.1 521.5,237.2 521.6,237.4 521.7,230.8 521.8,232.6 521.9,242.2 522.0,229.3 522.1,242.1 522.2,238.5 522.3,236.3 522.4,239.6 522.5,239.2 522.6,242.7 522.7,234.6 522.8,235.4 522.9,235.2 523.0,245.8 523.1,241.0 523.2,231.6 523.3,234.5 523.4,232.6 523.5,236.1 523.6,237.1 523.7,247.4 523.8,226.7 523.9,241.0 524.0,238.0 524.1,232.3 524.2,235.0 524.3,233.2 524.4,236.0 524.5,240.7 524.6,228.1 524.7,242.3 524.8,233.8 524.9,243.2 525.0,237.7 525.1,241.8 525.2,238.5 525.3,241.1 525.4,236.0 525.5,231.5 525.6,239.1 525.7,239.3 525.8,246.3 525.9,225.8 526.0,234.9 526.1,241.2 526.2,229.7 526.3,234.9 526.4,246.7 526.5,243.2 526.6,231.8 526.7,243.4 526.8,242.2 526.9,240.3 527.0,238.4 527.1,237.7 527.2,232.2 527.3,234.1 527.4,240.5 527.5,237.6 527.6,246.2 527.7,235.4 527.8,225.1 527.9,235.6 528.0,238.8 528.1,239.4 528.2,238.0 528.3,233.6 528.4,245.3 528.5,234.7 528.6,241.7 528.7,236.8 528.8,232.4 528.9,245.6 529.0,226.1 529.1,234.6 529.2,241.1 529.3,237.3 529.4,243.0 529.5,238.9 529.6,237.3 529.7,250.6 529.8,238.8 529.9,239.3 530.0,234.9 530.1,236.7 530.2,243.9 530.3,243.7 530.4,241.0 530.5,237.7 530.6,244.8 530.7,233.1 530.8,240.1 530.9,240.7 531.0,238.0 531.1,243.2 531.2,239.3 531.3,238.8 531.4,252.1 531.5,247.0 531.6,249.5 531.7,244.0 531.8,248.8 531.9,248.1 532.0,250.5 532.1,256.5 532.2,243.8 532.3,246.4 532.4,245.1 532.5,231.7 532.6,238.9 532.7,246.2 532.8,249.6 532.9,243.8 533.0,252.6 533.1,253.6 533.2,245.4 533.3,254.8 533.4,256.7 533.5,250.5 533.6,243.6 533.7,256.1 533.8,248.2 533.9,247.4 534.0,250.2 534.1,247.2 534.2,255.5 534.3,254.3 534.4,256.8 534.5,253.9 534.6,247.3 534.7,250.8 534.8,256.2 534.9,250.1 535.0,266.4 535.1,251.5 535.2,250.1 535.3,259.1 535.4,257.4 535.5,253.8 535.6,253.1 535.7,256.6 535.8,259.0 535.9,258.9 536.0,253.9 536.1,257.9 536.2,260.3 536.3,260.2 536.4,242.7 536.5,252.5 536.6,253.4 536.7,256.4 536.8,258.8 536.9,262.8 537.0,261.6 537.1,258.2 537.2,259.3 537.3,268.3 537.4,256.7 537.5,261.6 537.6,268.3 537.7,262.5 537.8,250.8 537.9,263.3 538.0,259.8 538.1,261.5 538.2,267.6 538.3,265.0 538.4,261.7 538.5,267.8 538.6,265.8 538.7,264.5 538.8,265.8 538.9,265.9 539.0,263.2 539.1,263.0 539.2,265.7 539.3,261.1 539.4,259.9 539.5,273.0 539.6,265.7 539.7,267.1 539.8,266.8 539.9,268.0 540.0,268.3 540.1,268.8 540.2,264.8 540.3,273.8 540.4,266.0 540.5,274.9 540.6,260.5 540.7,265.1 540.8,275.7 540.9,270.3 541.0,268.0 541.1,273.6 541.2,266.8 541.3,272.7 541.4,261.6 541.5,270.7 541.6,270.0 541.7,276.3 541.8,278.3 541.9,269.9 542.0,282.6 542.1,271.9 542.2,264.9 542.3,263.6 542.4,283.5 542.5,275.7 542.6,273.2 542.7,273.0 542.8,271.5 542.9,284.1 543.0,277.2 543.1,286.9 543.2,277.2 543.3,266.8 543.4,283.1 543.5,277.3 543.6,278.2 543.7,287.6 543.8,278.7 543.9,286.1 544.0,280.6 544.1,277.1 544.2,283.7 544.3,278.5 544.4,287.9 544.5,286.9 544.6,282.7 544.7,285.7 544.8,285.7 544.9,281.8 545.0,288.0 545.1,282.6 545.2,287.1 545.3,279.6 545.4,285.1 545.5,286.9 545.6,281.2 545.7,283.3 545.8,283.0 545.9,289.6 546.0,282.6 546.1,288.7 546.2,294.4 546.3,288.8 546.4,279.2 546.5,288.2 546.6,293.0 546.7,286.6 546.8,293.9 546.9,291.7 547.0,291.0 547.1,287.8 547.2,286.8 547.3,288.3 547.4,290.2 547.5,292.7 547.6,292.4 547.7,289.1 547.8,291.2 547.9,293.0 548.0,283.2 548.1,287.7 548.2,287.8 548.3,291.0 548.4,290.9 548.5,291.2 548.6,288.3 548.7,296.3 548.8,294.5 548.9,285.2 549.0,293.7 549.1,288.2 549.2,302.5 549.3,292.0 549.4,292.5 549.5,295.1 549.6,293.9 549.7,294.8 549.8,303.0 549.9,296.6 550.0,299.9 550.1,301.6 550.2,291.2 550.3,304.8 550.4,300.0 550.5,301.5 550.6,292.6 550.7,301.2 550.8,299.4 550.9,294.8 551.0,309.1 551.1,300.7 551.2,296.8 551.3,299.2 551.4,303.0 551.5,304.2 551.6,301.7 551.7,305.0 551.8,306.5 551.9,293.1 552.0,297.0 552.1,294.9 552.2,300.3 552.3,307.2 552.4,303.4 552.5,295.1 552.6,299.0 552.7,305.8 552.8,298.1 552.9,300.4 553.0,302.6 553.1,292.1 553.2,305.3 553.3,303.2 553.4,304.5 553.5,296.9 553.6,298.1 553.7,299.1 553.8,303.5 553.9,302.8 554.0,303.2 554.1,311.6 554.2,309.4 554.3,299.4 554.4,299.8 554.5,311.8 554.6,301.8 554.7,310.4 554.8,311.6 554.9,301.0 555.0,302.5 555.1,304.4 555.2,299.8 555.3,299.3 555.4,302.3 555.5,308.7 555.6,302.3 555.7,303.7 555.8,302.5 555.9,298.1 556.0,312.5 556.1,293.4 556.2,302.0 556.3,308.2 556.4,298.5 556.5,308.6 556.6,311.9 556.7,301.5 556.8,306.9 556.9,300.4 557.0,308.6 557.1,306.6 557.2,307.4 557.3,313.2 557.4,308.8 557.5,313.3 557.6,309.8 557.7,300.8 557.8,308.1 557.9,309.4 558.0,299.8 558.1,313.8 558.2,307.5 558.3,309.1 558.4,302.9 558.5,307.8 558.6,309.0 558.7,306.0 558.8,308.1 558.9,297.2 559.0,314.6 559.1,302.3 559.2,297.1 559.3,303.2 559.4,303.9 559.5,310.9 559.6,303.7 559.7,309.8 559.8,303.6 559.9,319.5 560.0,311.3 560.1,318.4 560.2,303.6 560.3,312.0 560.4,304.0 560.5,311.7 560.6,312.3 560.7,301.0 560.8,303.3 560.9,303.3 561.0,301.6 561.1,305.5 561.2,304.5 561.3,302.1 561.4,309.8 561.5,312.1 561.6,302.9 561.7,306.7 561.8,309.6 561.9,308.5 562.0,306.2 562.1,313.8 562.2,314.0 562.3,313.2 562.4,308.8 562.5,319.8 562.6,318.6 562.7,308.0 562.8,309.4 562.9,316.0 563.0,306.1 563.1,312.1 563.2,310.4 563.3,306.7 563.4,309.1 563.5,302.5 563.6,307.6 563.7,300.4 563.8,321.8 563.9,318.0 564.0,316.6 564.1,312.0 564.2,315.6 564.3,317.0 564.4,315.7 564.5,315.3 564.6,306.1 564.7,312.9 564.8,308.1 564.9,304.9 565.0,305.1 565.1,313.0 565.2,316.1 565.3,304.1 565.4,319.7 565.5,318.3 565.6,309.1 565.7,308.7 565.8,310.7 565.9,316.0 566.0,309.2 566.1,305.6 566.2,312.9 566.3,300.8 566.4,311.9 566.5,317.0 566.6,312.8 566.7,315.1 566.8,313.7 566.9,314.9 567.0,312.0 567.1,307.2 567.2,310.2 567.3,311.0 567.4,317.7 567.5,319.5 567.6,313.5 567.7,307.7 567.8,307.8 567.9,310.6 568.0,318.5 568.1,313.2 568.2,311.3 568.3,307.7 568.4,316.0 568.5,313.0 568.6,311.4 568.7,312.2 568.8,320.1 568.9,310.9 569.0,320.1 569.1,317.9 569.2,312.0 569.3,316.1 569.4,311.1 569.5,307.6 569.6,310.4 569.7,307.2 569.8,314.4 569.9,311.9 570.0,314.7 570.1,316.0 570.2,297.9 570.3,313.4 570.4,302.9 570.5,312.7 570.6,307.5 570.7,312.4 570.8,318.8 570.9,303.4 571.0,312.9 571.1,311.6 571.2,302.5 571.3,315.2 571.4,312.2 571.5,309.5 571.6,308.4 571.7,326.0 571.8,310.1 571.9,303.0 572.0,307.4 572.1,310.2 572.2,310.1 572.3,311.7 572.4,306.8 572.5,314.8 572.6,309.7 572.7,305.3 572.8,308.0 572.9,310.2 573.0,316.4 573.1,314.6 573.2,310.5 573.3,312.2 573.4,313.2 573.5,322.4 573.6,309.1 573.7,314.5 573.8,315.8 573.9,307.4 574.0,313.1 574.1,313.0 574.2,309.9 574.3,315.1 574.4,317.4 574.5,317.9 574.6,311.3 574.7,313.2 574.8,324.0 574.9,306.7 575.0,313.4 575.1,316.7 575.2,313.0 575.3,315.6 575.4,313.1 575.5,316.0 575.6,318.7 575.7,311.2 575.8,313.3 575.9,312.0 576.0,310.3 576.1,312.2 576.2,306.7 576.3,316.0 576.4,320.8 576.5,320.8 576.6,318.7 576.7,307.5 576.8,319.9 576.9,308.8 577.0,312.1 577.1,321.6 577.2,307.0 577.3,316.6 577.4,313.8 577.5,311.6 577.6,308.0 577.7,314.5 577.8,310.1 577.9,317.6 578.0,318.5 578.1,305.5 578.2,309.9 578.3,310.8 578.4,306.5 578.5,306.8 578.6,312.8 578.7,311.4 578.8,304.1 578.9,309.7 579.0,315.0 579.1,306.4 579.2,307.8 579.3,320.4 579.4,319.0 579.5,304.3 579.6,305.7 579.7,314.3 579.8,306.5 579.9,311.2 580.0,310.2 580.1,315.2 580.2,299.8 580.3,301.4 580.4,306.3 580.5,317.5 580.6,311.7 580.7,303.9 580.8,314.9 580.9,316.0 581.0,311.2 581.1,310.8 581.2,314.7 581.3,318.5 581.4,313.2 581.5,315.1 581.6,312.2 581.7,310.6 581.8,307.9 581.9,313.8 582.0,311.0 582.1,311.3 582.2,317.1 582.3,314.9 582.4,316.8 582.5,304.6 582.6,315.3 582.7,309.5 582.8,308.5 582.9,308.2 583.0,318.6 583.1,316.6 583.2,308.9 583.3,306.8 583.4,312.6 583.5,310.2 583.6,320.8 583.7,305.2 583.8,303.4 583.9,311.2 584.0,312.6 584.1,313.2 584.2,316.3 584.3,322.9 584.4,310.8 584.5,309.8 584.6,303.7 584.7,313.7 584.8,316.8 584.9,311.2 585.0,318.4 585.1,312.7 585.2,320.1 585.3,314.2 585.4,307.3 585.5,309.4 585.6,304.9 585.7,303.9 585.8,313.9 585.9,316.9 586.0,322.3 586.1,312.3 586.2,311.4 586.3,307.0 586.4,317.5 586.5,314.5 586.6,309.6 586.7,316.0 586.8,315.4 586.9,303.2 587.0,316.3 587.1,313.2 587.2,310.6 587.3,310.5 587.4,321.3 587.5,320.3 587.6,321.7 587.7,306.8 587.8,309.3 587.9,317.1 588.0,306.5 588.1,309.0 588.2,303.6 588.3,321.8 588.4,317.9 588.5,314.9 588.6,313.7 588.7,310.5 588.8,310.6 588.9,315.7 589.0,309.0 589.1,318.7 589.2,310.1 589.3,308.2 589.4,319.1 589.5,311.9 589.6,315.4 589.7,310.5 589.8,301.4 589.9,315.3 590.0,305.9 590.1,318.0 590.2,304.9 590.3,303.3 590.4,314.1 590.5,314.7 590.6,313.1 590.7,306.5 590.8,317.1 590.9,305.3 591.0,310.3 591.1,308.7 591.2,310.7 591.3,316.9 591.4,309.5 591.5,315.4 591.6,316.1 591.7,304.1 591.8,306.8 591.9,310.7 592.0,309.7 592.1,314.2 592.2,303.0 592.3,316.2 592.4,316.4 592.5,311.8 592.6,305.7 592.7,312.7 592.8,310.0 592.9,315.5 593.0,312.2 593.1,316.3 593.2,310.5 593.3,319.9 593.4,301.1 593.5,307.6 593.6,315.1 593.7,305.1 593.8,316.3 593.9,306.6 594.0,313.1 594.1,308.1 594.2,310.5 594.3,313.5 594.4,312.1 594.5,310.8 594.6,323.4 594.7,312.7 594.8,307.8 594.9,317.3 595.0,316.8 595.1,318.8 595.2,321.6 595.3,308.0 595.4,318.0 595.5,318.4 595.6,312.7 595.7,313.9 595.8,298.7 595.9,309.8 596.0,321.6 596.1,303.7 596.2,310.0 596.3,314.1 596.4,315.6 596.5,320.8 596.6,303.9 596.7,312.9 596.8,317.0 596.9,306.1 597.0,312.5 597.1,322.1 597.2,319.3 597.3,315.4 597.4,299.6 597.5,312.0 597.6,314.6 597.7,311.2 597.8,312.4 597.9,326.7 598.0,311.6 598.1,307.9 598.2,313.9 598.3,311.1 598.4,311.2 598.5,312.3 598.6,316.6 598.7,313.9 598.8,306.7 598.9,312.1 599.0,315.1 599.1,310.4 599.2,318.5 599.3,316.6 599.4,307.8 599.5,314.3 599.6,322.6 599.7,320.5 599.8,312.4 599.9,317.2 600.0,309.4 600.1,305.5 600.2,315.5 600.3,314.0 600.4,315.3 600.5,312.6 600.6,314.4 600.7,310.2 600.8,315.1 600.9,316.9 601.0,312.4 601.1,316.8 601.2,303.9 601.3,308.8 601.4,320.0 601.5,321.6 601.6,314.0 601.7,312.2 601.8,306.4 601.9,314.6 602.0,316.6 602.1,305.3 602.2,315.5 602.3,315.2 602.4,315.0 602.5,307.1 602.6,315.5 602.7,305.3 602.8,320.2 602.9,313.4 603.0,306.9 603.1,319.5 603.2,318.5 603.3,309.5 603.4,323.8 603.5,307.7 603.6,314.3 603.7,318.7 603.8,301.4 603.9,317.8 604.0,312.5 604.1,312.7 604.2,307.4 604.3,314.4 604.4,307.2 604.5,307.9 604.6,310.5 604.7,306.6 604.8,320.6 604.9,306.1 605.0,309.0 605.1,311.2 605.2,312.8 605.3,316.8 605.4,316.9 605.5,311.3 605.6,310.9 605.7,313.0 605.8,316.9 605.9,316.3" fill="none" stroke="#ff0000" stroke-width="0.75"/>
<text x="429.80" y="352.90" font-size="7" font-family='"Liberation Sans",sans-serif' fill="#222" text-anchor="middle">540</text>
<text x="455.00" y="352.90" font-size="7" font-family='"Liberation Sans",sans-serif' fill="#222" text-anchor="middle">538</text>
<text x="480.20" y="352.90" font-size="7" font-family='"Liberation Sans",sans-serif' fill="#222" text-anchor="middle">536</text>
<text x="505.40" y="352.90" font-size="7" font-family='"Liberation Sans",sans-serif' fill="#222" text-anchor="middle">534</text>
<text x="530.60" y="352.90" font-size="7" font-family='"Liberation Sans",sans-serif' fill="#222" text-anchor="middle">532</text>
<text x="555.80" y="352.90" font-size="7" font-family='"Liberation Sans",sans-serif' fill="#222" text-anchor="middle">530</text>
<text x="581.00" y="352.90" font-size="7" font-family='"Liberation Sans",sans-serif' fill="#222" text-anchor="middle">528</text>
<text x="606.20" y="352.90" font-size="7" font-family='"Liberation Sans",sans-serif' fill="#222" text-anchor="middle">526</text>
<text x="488.50" y="361.70" font-size="7.1" font-family='"Liberation Sans",sans-serif' fill="#222" textLength="64.1" lengthAdjust="spacingAndGlyphs">Binding Energy (eV)</text>
<text x="0.00" y="0.00" font-size="7.1" font-family='"Liberation Sans",sans-serif' fill="#222" text-anchor="middle" textLength="45.0" lengthAdjust="spacingAndGlyphs" transform="translate(422.8,281.8) rotate(-90)">Intensity (a.u)</text>
<path d="M549,238.4H562.8" stroke="#1d3fe0" stroke-width="1.3"/>
<path d="M549,246.7H562.8" stroke="#ff3040" stroke-width="1.3"/>
<text x="565.70" y="240.60" font-size="7.1" font-family='"Liberation Sans",sans-serif' fill="#222" textLength="31.4" lengthAdjust="spacingAndGlyphs">Sputtered</text>
<text x="565.70" y="248.90" font-size="7.1" font-family='"Liberation Sans",sans-serif' fill="#222" textLength="30.0" lengthAdjust="spacingAndGlyphs">As-grown</text>
</svg>
</body></html>
